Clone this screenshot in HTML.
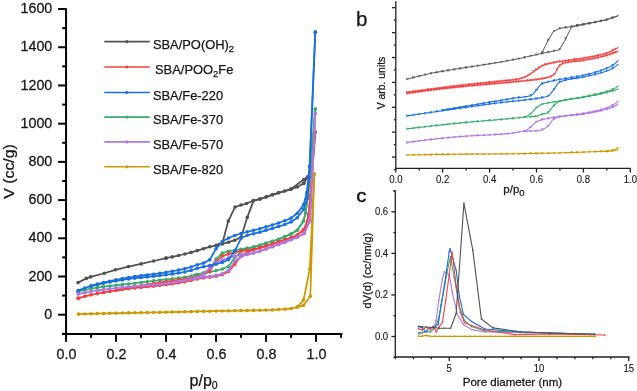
<!DOCTYPE html>
<html><head><meta charset="utf-8"><style>
html,body{margin:0;padding:0;background:#fff;}
svg{display:block;will-change:transform;}
</style></head><body>
<svg width="637" height="391" viewBox="0 0 637 391">
<rect width="637" height="391" fill="#fff"/>
<g stroke="#000" stroke-width="2" fill="none">
<line x1="66.05" y1="8.3" x2="66.05" y2="334.8"/>
<line x1="62.1" y1="334" x2="342.3" y2="334"/>
<line x1="62.2" y1="333.80" x2="66" y2="333.80"/>
<line x1="58.1" y1="314.70" x2="66" y2="314.70"/>
<line x1="62.2" y1="295.60" x2="66" y2="295.60"/>
<line x1="58.1" y1="276.49" x2="66" y2="276.49"/>
<line x1="62.2" y1="257.39" x2="66" y2="257.39"/>
<line x1="58.1" y1="238.29" x2="66" y2="238.29"/>
<line x1="62.2" y1="219.19" x2="66" y2="219.19"/>
<line x1="58.1" y1="200.08" x2="66" y2="200.08"/>
<line x1="62.2" y1="180.98" x2="66" y2="180.98"/>
<line x1="58.1" y1="161.88" x2="66" y2="161.88"/>
<line x1="62.2" y1="142.77" x2="66" y2="142.77"/>
<line x1="58.1" y1="123.67" x2="66" y2="123.67"/>
<line x1="62.2" y1="104.57" x2="66" y2="104.57"/>
<line x1="58.1" y1="85.46" x2="66" y2="85.46"/>
<line x1="62.2" y1="66.36" x2="66" y2="66.36"/>
<line x1="58.1" y1="47.26" x2="66" y2="47.26"/>
<line x1="62.2" y1="28.15" x2="66" y2="28.15"/>
<line x1="58.1" y1="9.05" x2="66" y2="9.05"/>
<line x1="66.05" y1="334" x2="66.05" y2="341.8"/>
<line x1="91.05" y1="334" x2="91.05" y2="337.8"/>
<line x1="116.05" y1="334" x2="116.05" y2="341.8"/>
<line x1="141.05" y1="334" x2="141.05" y2="337.8"/>
<line x1="166.05" y1="334" x2="166.05" y2="341.8"/>
<line x1="191.05" y1="334" x2="191.05" y2="337.8"/>
<line x1="216.05" y1="334" x2="216.05" y2="341.8"/>
<line x1="241.05" y1="334" x2="241.05" y2="337.8"/>
<line x1="266.05" y1="334" x2="266.05" y2="341.8"/>
<line x1="291.05" y1="334" x2="291.05" y2="337.8"/>
<line x1="316.05" y1="334" x2="316.05" y2="341.8"/>
<line x1="341.05" y1="334" x2="341.05" y2="337.8"/>
</g>
<g font-family='"Liberation Sans", sans-serif' fill='#161616' stroke='#161616' stroke-width='0.25'>
<text transform="translate(52.3,318.85) scale(1.02,1)" font-size="14" text-anchor="end">0</text>
<text transform="translate(52.3,280.64) scale(1.02,1)" font-size="14" text-anchor="end">200</text>
<text transform="translate(52.3,242.44) scale(1.02,1)" font-size="14" text-anchor="end">400</text>
<text transform="translate(52.3,204.23) scale(1.02,1)" font-size="14" text-anchor="end">600</text>
<text transform="translate(52.3,166.03) scale(1.02,1)" font-size="14" text-anchor="end">800</text>
<text transform="translate(52.3,127.82) scale(1.02,1)" font-size="14" text-anchor="end">1000</text>
<text transform="translate(52.3,89.61) scale(1.02,1)" font-size="14" text-anchor="end">1200</text>
<text transform="translate(52.3,51.41) scale(1.02,1)" font-size="14" text-anchor="end">1400</text>
<text transform="translate(52.3,13.20) scale(1.02,1)" font-size="14" text-anchor="end">1600</text>
<text transform="translate(66.45,358.5) scale(1.02,1)" font-size="14" text-anchor="middle">0.0</text>
<text transform="translate(116.45,358.5) scale(1.02,1)" font-size="14" text-anchor="middle">0.2</text>
<text transform="translate(166.45,358.5) scale(1.02,1)" font-size="14" text-anchor="middle">0.4</text>
<text transform="translate(216.45,358.5) scale(1.02,1)" font-size="14" text-anchor="middle">0.6</text>
<text transform="translate(266.45,358.5) scale(1.02,1)" font-size="14" text-anchor="middle">0.8</text>
<text transform="translate(316.45,358.5) scale(1.02,1)" font-size="14" text-anchor="middle">1.0</text>
<text x="189.6" y="385.8" font-size="16">p/p<tspan font-size="10.5" dy="3">0</tspan></text>
<text transform="translate(13.6,171.5) rotate(-90) scale(1.12,1)" font-size="14.2" text-anchor="middle">V (cc/g)</text>
</g>
<polyline points="78.55,314.13 84.80,313.95 91.05,313.78 97.30,313.62 103.55,313.46 109.80,313.31 116.05,313.17 122.30,313.04 128.55,312.92 134.80,312.80 141.05,312.69 147.30,312.57 153.55,312.46 159.80,312.34 166.05,312.22 172.30,312.08 178.55,311.94 184.80,311.79 191.05,311.64 197.30,311.49 203.55,311.35 209.80,311.21 216.05,311.07 222.30,310.95 228.55,310.83 234.80,310.73 241.05,310.62 247.30,310.51 253.55,310.40 259.80,310.26 266.05,310.12 272.30,309.91 278.55,309.51 284.80,309.16 291.05,308.59 297.30,307.06 303.55,305.34 310.30,296.17 314.30,174.10" fill="none" stroke="#CC9900" stroke-width="1.75" stroke-linejoin="round" stroke-linecap="round" />
<circle cx="78.55" cy="314.13" r="1.8" fill="#CC9900"/>
<circle cx="84.80" cy="313.95" r="1.8" fill="#CC9900"/>
<circle cx="91.05" cy="313.78" r="1.8" fill="#CC9900"/>
<circle cx="97.30" cy="313.62" r="1.8" fill="#CC9900"/>
<circle cx="103.55" cy="313.46" r="1.8" fill="#CC9900"/>
<circle cx="109.80" cy="313.31" r="1.8" fill="#CC9900"/>
<circle cx="116.05" cy="313.17" r="1.8" fill="#CC9900"/>
<circle cx="122.30" cy="313.04" r="1.8" fill="#CC9900"/>
<circle cx="128.55" cy="312.92" r="1.8" fill="#CC9900"/>
<circle cx="134.80" cy="312.80" r="1.8" fill="#CC9900"/>
<circle cx="141.05" cy="312.69" r="1.8" fill="#CC9900"/>
<circle cx="147.30" cy="312.57" r="1.8" fill="#CC9900"/>
<circle cx="153.55" cy="312.46" r="1.8" fill="#CC9900"/>
<circle cx="159.80" cy="312.34" r="1.8" fill="#CC9900"/>
<circle cx="166.05" cy="312.22" r="1.8" fill="#CC9900"/>
<circle cx="172.30" cy="312.08" r="1.8" fill="#CC9900"/>
<circle cx="178.55" cy="311.94" r="1.8" fill="#CC9900"/>
<circle cx="184.80" cy="311.79" r="1.8" fill="#CC9900"/>
<circle cx="191.05" cy="311.64" r="1.8" fill="#CC9900"/>
<circle cx="197.30" cy="311.49" r="1.8" fill="#CC9900"/>
<circle cx="203.55" cy="311.35" r="1.8" fill="#CC9900"/>
<circle cx="209.80" cy="311.21" r="1.8" fill="#CC9900"/>
<circle cx="216.05" cy="311.07" r="1.8" fill="#CC9900"/>
<circle cx="222.30" cy="310.95" r="1.8" fill="#CC9900"/>
<circle cx="228.55" cy="310.83" r="1.8" fill="#CC9900"/>
<circle cx="234.80" cy="310.73" r="1.8" fill="#CC9900"/>
<circle cx="241.05" cy="310.62" r="1.8" fill="#CC9900"/>
<circle cx="247.30" cy="310.51" r="1.8" fill="#CC9900"/>
<circle cx="253.55" cy="310.40" r="1.8" fill="#CC9900"/>
<circle cx="259.80" cy="310.26" r="1.8" fill="#CC9900"/>
<circle cx="266.05" cy="310.12" r="1.8" fill="#CC9900"/>
<circle cx="272.30" cy="309.91" r="1.8" fill="#CC9900"/>
<circle cx="278.55" cy="309.51" r="1.8" fill="#CC9900"/>
<circle cx="284.80" cy="309.16" r="1.8" fill="#CC9900"/>
<circle cx="291.05" cy="308.59" r="1.8" fill="#CC9900"/>
<circle cx="297.30" cy="307.06" r="1.8" fill="#CC9900"/>
<circle cx="303.55" cy="305.34" r="1.8" fill="#CC9900"/>
<circle cx="310.30" cy="296.17" r="1.8" fill="#CC9900"/>
<circle cx="314.30" cy="174.10" r="1.8" fill="#CC9900"/>
<polyline points="297.30,307.06 303.55,299.99 309.80,268.85 314.30,174.10" fill="none" stroke="#CC9900" stroke-width="1.75" stroke-linejoin="round" stroke-linecap="round" />
<circle cx="297.30" cy="307.06" r="1.8" fill="#CC9900"/>
<circle cx="303.55" cy="299.99" r="1.8" fill="#CC9900"/>
<circle cx="309.80" cy="268.85" r="1.8" fill="#CC9900"/>
<circle cx="314.30" cy="174.10" r="1.8" fill="#CC9900"/>
<polyline points="78.05,291.59 78.55,291.45 84.80,289.84 91.05,288.53 97.30,287.55 103.55,286.72 109.80,285.99 116.05,285.31 122.30,284.64 128.55,283.93 134.80,283.18 141.05,282.43 147.30,281.68 153.55,280.92 159.80,280.15 166.05,279.43 172.30,278.76 178.55,278.04 184.80,277.19 191.05,276.08 197.30,274.45 203.55,273.18 209.80,271.98 216.05,270.58 222.30,268.98 228.55,266.40 234.80,257.58 241.05,251.24 247.30,248.83 253.55,247.13 259.80,245.21 266.05,243.21 272.30,241.21 278.55,239.21 284.80,236.83 291.05,233.93 297.30,230.18 303.55,221.12 305.55,212.88 308.05,195.31 315.30,108.96" fill="none" stroke="#37AD6B" stroke-width="1.75" stroke-linejoin="round" stroke-linecap="round" />
<circle cx="78.05" cy="291.59" r="1.8" fill="#37AD6B"/>
<circle cx="78.55" cy="291.45" r="1.8" fill="#37AD6B"/>
<circle cx="84.80" cy="289.84" r="1.8" fill="#37AD6B"/>
<circle cx="91.05" cy="288.53" r="1.8" fill="#37AD6B"/>
<circle cx="97.30" cy="287.55" r="1.8" fill="#37AD6B"/>
<circle cx="103.55" cy="286.72" r="1.8" fill="#37AD6B"/>
<circle cx="109.80" cy="285.99" r="1.8" fill="#37AD6B"/>
<circle cx="116.05" cy="285.31" r="1.8" fill="#37AD6B"/>
<circle cx="122.30" cy="284.64" r="1.8" fill="#37AD6B"/>
<circle cx="128.55" cy="283.93" r="1.8" fill="#37AD6B"/>
<circle cx="134.80" cy="283.18" r="1.8" fill="#37AD6B"/>
<circle cx="141.05" cy="282.43" r="1.8" fill="#37AD6B"/>
<circle cx="147.30" cy="281.68" r="1.8" fill="#37AD6B"/>
<circle cx="153.55" cy="280.92" r="1.8" fill="#37AD6B"/>
<circle cx="159.80" cy="280.15" r="1.8" fill="#37AD6B"/>
<circle cx="166.05" cy="279.43" r="1.8" fill="#37AD6B"/>
<circle cx="172.30" cy="278.76" r="1.8" fill="#37AD6B"/>
<circle cx="178.55" cy="278.04" r="1.8" fill="#37AD6B"/>
<circle cx="184.80" cy="277.19" r="1.8" fill="#37AD6B"/>
<circle cx="191.05" cy="276.08" r="1.8" fill="#37AD6B"/>
<circle cx="197.30" cy="274.45" r="1.8" fill="#37AD6B"/>
<circle cx="203.55" cy="273.18" r="1.8" fill="#37AD6B"/>
<circle cx="209.80" cy="271.98" r="1.8" fill="#37AD6B"/>
<circle cx="216.05" cy="270.58" r="1.8" fill="#37AD6B"/>
<circle cx="222.30" cy="268.98" r="1.8" fill="#37AD6B"/>
<circle cx="228.55" cy="266.40" r="1.8" fill="#37AD6B"/>
<circle cx="234.80" cy="257.58" r="1.8" fill="#37AD6B"/>
<circle cx="241.05" cy="251.24" r="1.8" fill="#37AD6B"/>
<circle cx="247.30" cy="248.83" r="1.8" fill="#37AD6B"/>
<circle cx="253.55" cy="247.13" r="1.8" fill="#37AD6B"/>
<circle cx="259.80" cy="245.21" r="1.8" fill="#37AD6B"/>
<circle cx="266.05" cy="243.21" r="1.8" fill="#37AD6B"/>
<circle cx="272.30" cy="241.21" r="1.8" fill="#37AD6B"/>
<circle cx="278.55" cy="239.21" r="1.8" fill="#37AD6B"/>
<circle cx="284.80" cy="236.83" r="1.8" fill="#37AD6B"/>
<circle cx="291.05" cy="233.93" r="1.8" fill="#37AD6B"/>
<circle cx="297.30" cy="230.18" r="1.8" fill="#37AD6B"/>
<circle cx="303.55" cy="221.12" r="1.8" fill="#37AD6B"/>
<circle cx="305.55" cy="212.88" r="1.8" fill="#37AD6B"/>
<circle cx="308.05" cy="195.31" r="1.8" fill="#37AD6B"/>
<circle cx="315.30" cy="108.96" r="1.8" fill="#37AD6B"/>
<polyline points="195.05,274.97 197.30,274.81 203.55,272.96 209.80,269.37 216.05,259.11 222.30,253.16 228.55,251.41 234.80,250.22 241.05,249.22 247.30,248.15 253.55,247.02 259.80,245.38 266.05,243.27 272.30,241.21 278.55,239.21 284.80,236.83 291.05,233.93 297.30,230.18 303.55,221.12 305.55,212.88 308.05,195.31 315.30,108.96" fill="none" stroke="#37AD6B" stroke-width="1.75" stroke-linejoin="round" stroke-linecap="round" />
<circle cx="195.05" cy="274.97" r="1.8" fill="#37AD6B"/>
<circle cx="197.30" cy="274.81" r="1.8" fill="#37AD6B"/>
<circle cx="203.55" cy="272.96" r="1.8" fill="#37AD6B"/>
<circle cx="209.80" cy="269.37" r="1.8" fill="#37AD6B"/>
<circle cx="216.05" cy="259.11" r="1.8" fill="#37AD6B"/>
<circle cx="222.30" cy="253.16" r="1.8" fill="#37AD6B"/>
<circle cx="228.55" cy="251.41" r="1.8" fill="#37AD6B"/>
<circle cx="234.80" cy="250.22" r="1.8" fill="#37AD6B"/>
<circle cx="241.05" cy="249.22" r="1.8" fill="#37AD6B"/>
<circle cx="247.30" cy="248.15" r="1.8" fill="#37AD6B"/>
<circle cx="253.55" cy="247.02" r="1.8" fill="#37AD6B"/>
<circle cx="259.80" cy="245.38" r="1.8" fill="#37AD6B"/>
<circle cx="266.05" cy="243.27" r="1.8" fill="#37AD6B"/>
<circle cx="272.30" cy="241.21" r="1.8" fill="#37AD6B"/>
<circle cx="278.55" cy="239.21" r="1.8" fill="#37AD6B"/>
<circle cx="284.80" cy="236.83" r="1.8" fill="#37AD6B"/>
<circle cx="291.05" cy="233.93" r="1.8" fill="#37AD6B"/>
<circle cx="297.30" cy="230.18" r="1.8" fill="#37AD6B"/>
<circle cx="303.55" cy="221.12" r="1.8" fill="#37AD6B"/>
<circle cx="305.55" cy="212.88" r="1.8" fill="#37AD6B"/>
<circle cx="308.05" cy="195.31" r="1.8" fill="#37AD6B"/>
<circle cx="315.30" cy="108.96" r="1.8" fill="#37AD6B"/>
<polyline points="78.05,298.27 78.55,298.13 84.80,296.35 91.05,294.83 97.30,293.58 103.55,292.44 109.80,291.39 116.05,290.42 122.30,289.53 128.55,288.72 134.80,287.99 141.05,287.37 147.30,286.80 153.55,286.20 159.80,285.50 166.05,284.70 172.30,283.83 178.55,282.86 184.80,281.75 191.05,280.46 197.30,278.91 203.55,277.96 209.80,277.17 216.05,276.18 222.30,274.62 228.55,271.46 234.80,264.38 241.05,255.56 247.30,252.21 253.55,249.72 259.80,247.66 266.05,245.96 272.30,244.04 278.55,241.86 284.80,239.92 291.05,237.89 297.30,234.93 303.55,229.72 305.55,227.02 308.80,214.41 315.30,132.08" fill="none" stroke="#F14040" stroke-width="1.75" stroke-linejoin="round" stroke-linecap="round" />
<circle cx="78.05" cy="298.27" r="1.8" fill="#F14040"/>
<circle cx="78.55" cy="298.13" r="1.8" fill="#F14040"/>
<circle cx="84.80" cy="296.35" r="1.8" fill="#F14040"/>
<circle cx="91.05" cy="294.83" r="1.8" fill="#F14040"/>
<circle cx="97.30" cy="293.58" r="1.8" fill="#F14040"/>
<circle cx="103.55" cy="292.44" r="1.8" fill="#F14040"/>
<circle cx="109.80" cy="291.39" r="1.8" fill="#F14040"/>
<circle cx="116.05" cy="290.42" r="1.8" fill="#F14040"/>
<circle cx="122.30" cy="289.53" r="1.8" fill="#F14040"/>
<circle cx="128.55" cy="288.72" r="1.8" fill="#F14040"/>
<circle cx="134.80" cy="287.99" r="1.8" fill="#F14040"/>
<circle cx="141.05" cy="287.37" r="1.8" fill="#F14040"/>
<circle cx="147.30" cy="286.80" r="1.8" fill="#F14040"/>
<circle cx="153.55" cy="286.20" r="1.8" fill="#F14040"/>
<circle cx="159.80" cy="285.50" r="1.8" fill="#F14040"/>
<circle cx="166.05" cy="284.70" r="1.8" fill="#F14040"/>
<circle cx="172.30" cy="283.83" r="1.8" fill="#F14040"/>
<circle cx="178.55" cy="282.86" r="1.8" fill="#F14040"/>
<circle cx="184.80" cy="281.75" r="1.8" fill="#F14040"/>
<circle cx="191.05" cy="280.46" r="1.8" fill="#F14040"/>
<circle cx="197.30" cy="278.91" r="1.8" fill="#F14040"/>
<circle cx="203.55" cy="277.96" r="1.8" fill="#F14040"/>
<circle cx="209.80" cy="277.17" r="1.8" fill="#F14040"/>
<circle cx="216.05" cy="276.18" r="1.8" fill="#F14040"/>
<circle cx="222.30" cy="274.62" r="1.8" fill="#F14040"/>
<circle cx="228.55" cy="271.46" r="1.8" fill="#F14040"/>
<circle cx="234.80" cy="264.38" r="1.8" fill="#F14040"/>
<circle cx="241.05" cy="255.56" r="1.8" fill="#F14040"/>
<circle cx="247.30" cy="252.21" r="1.8" fill="#F14040"/>
<circle cx="253.55" cy="249.72" r="1.8" fill="#F14040"/>
<circle cx="259.80" cy="247.66" r="1.8" fill="#F14040"/>
<circle cx="266.05" cy="245.96" r="1.8" fill="#F14040"/>
<circle cx="272.30" cy="244.04" r="1.8" fill="#F14040"/>
<circle cx="278.55" cy="241.86" r="1.8" fill="#F14040"/>
<circle cx="284.80" cy="239.92" r="1.8" fill="#F14040"/>
<circle cx="291.05" cy="237.89" r="1.8" fill="#F14040"/>
<circle cx="297.30" cy="234.93" r="1.8" fill="#F14040"/>
<circle cx="303.55" cy="229.72" r="1.8" fill="#F14040"/>
<circle cx="305.55" cy="227.02" r="1.8" fill="#F14040"/>
<circle cx="308.80" cy="214.41" r="1.8" fill="#F14040"/>
<circle cx="315.30" cy="132.08" r="1.8" fill="#F14040"/>
<polyline points="116.05,290.25 122.30,288.57 128.55,287.25 134.80,286.39 141.05,285.66 147.30,284.72 153.55,283.67 159.80,282.65 166.05,281.72 172.30,280.85 178.55,279.99 184.80,279.06 191.05,278.04 197.30,276.70 203.55,274.72 209.80,271.05 216.05,261.58 222.30,256.08 228.55,253.99 234.80,252.20 241.05,251.05 247.30,250.29 253.55,249.45 259.80,248.04 266.05,246.09 272.30,244.04 278.55,241.86 284.80,239.92 291.05,237.89 297.30,234.93 303.55,229.72 305.55,227.02 308.80,214.41 315.30,132.08" fill="none" stroke="#F14040" stroke-width="1.75" stroke-linejoin="round" stroke-linecap="round" />
<circle cx="116.05" cy="290.25" r="1.8" fill="#F14040"/>
<circle cx="122.30" cy="288.57" r="1.8" fill="#F14040"/>
<circle cx="128.55" cy="287.25" r="1.8" fill="#F14040"/>
<circle cx="134.80" cy="286.39" r="1.8" fill="#F14040"/>
<circle cx="141.05" cy="285.66" r="1.8" fill="#F14040"/>
<circle cx="147.30" cy="284.72" r="1.8" fill="#F14040"/>
<circle cx="153.55" cy="283.67" r="1.8" fill="#F14040"/>
<circle cx="159.80" cy="282.65" r="1.8" fill="#F14040"/>
<circle cx="166.05" cy="281.72" r="1.8" fill="#F14040"/>
<circle cx="172.30" cy="280.85" r="1.8" fill="#F14040"/>
<circle cx="178.55" cy="279.99" r="1.8" fill="#F14040"/>
<circle cx="184.80" cy="279.06" r="1.8" fill="#F14040"/>
<circle cx="191.05" cy="278.04" r="1.8" fill="#F14040"/>
<circle cx="197.30" cy="276.70" r="1.8" fill="#F14040"/>
<circle cx="203.55" cy="274.72" r="1.8" fill="#F14040"/>
<circle cx="209.80" cy="271.05" r="1.8" fill="#F14040"/>
<circle cx="216.05" cy="261.58" r="1.8" fill="#F14040"/>
<circle cx="222.30" cy="256.08" r="1.8" fill="#F14040"/>
<circle cx="228.55" cy="253.99" r="1.8" fill="#F14040"/>
<circle cx="234.80" cy="252.20" r="1.8" fill="#F14040"/>
<circle cx="241.05" cy="251.05" r="1.8" fill="#F14040"/>
<circle cx="247.30" cy="250.29" r="1.8" fill="#F14040"/>
<circle cx="253.55" cy="249.45" r="1.8" fill="#F14040"/>
<circle cx="259.80" cy="248.04" r="1.8" fill="#F14040"/>
<circle cx="266.05" cy="246.09" r="1.8" fill="#F14040"/>
<circle cx="272.30" cy="244.04" r="1.8" fill="#F14040"/>
<circle cx="278.55" cy="241.86" r="1.8" fill="#F14040"/>
<circle cx="284.80" cy="239.92" r="1.8" fill="#F14040"/>
<circle cx="291.05" cy="237.89" r="1.8" fill="#F14040"/>
<circle cx="297.30" cy="234.93" r="1.8" fill="#F14040"/>
<circle cx="303.55" cy="229.72" r="1.8" fill="#F14040"/>
<circle cx="305.55" cy="227.02" r="1.8" fill="#F14040"/>
<circle cx="308.80" cy="214.41" r="1.8" fill="#F14040"/>
<circle cx="315.30" cy="132.08" r="1.8" fill="#F14040"/>
<polyline points="78.05,294.07 78.55,293.96 84.80,292.57 91.05,291.39 97.30,290.44 103.55,289.57 109.80,288.77 116.05,288.04 122.30,287.38 128.55,286.76 134.80,286.22 141.05,285.78 147.30,285.37 153.55,284.92 159.80,284.35 166.05,283.58 172.30,282.60 178.55,281.49 184.80,280.33 191.05,279.17 197.30,278.03 203.55,277.17 209.80,276.38 216.05,275.37 222.30,273.86 228.55,270.27 234.80,261.49 241.05,256.71 247.30,254.62 253.55,253.04 259.80,251.09 266.05,248.89 272.30,246.66 278.55,244.38 284.80,242.13 291.05,239.79 297.30,237.28 303.55,233.77 304.30,233.13 310.05,220.52 315.30,113.55" fill="none" stroke="#B177DE" stroke-width="1.75" stroke-linejoin="round" stroke-linecap="round" />
<circle cx="78.05" cy="294.07" r="1.8" fill="#B177DE"/>
<circle cx="78.55" cy="293.96" r="1.8" fill="#B177DE"/>
<circle cx="84.80" cy="292.57" r="1.8" fill="#B177DE"/>
<circle cx="91.05" cy="291.39" r="1.8" fill="#B177DE"/>
<circle cx="97.30" cy="290.44" r="1.8" fill="#B177DE"/>
<circle cx="103.55" cy="289.57" r="1.8" fill="#B177DE"/>
<circle cx="109.80" cy="288.77" r="1.8" fill="#B177DE"/>
<circle cx="116.05" cy="288.04" r="1.8" fill="#B177DE"/>
<circle cx="122.30" cy="287.38" r="1.8" fill="#B177DE"/>
<circle cx="128.55" cy="286.76" r="1.8" fill="#B177DE"/>
<circle cx="134.80" cy="286.22" r="1.8" fill="#B177DE"/>
<circle cx="141.05" cy="285.78" r="1.8" fill="#B177DE"/>
<circle cx="147.30" cy="285.37" r="1.8" fill="#B177DE"/>
<circle cx="153.55" cy="284.92" r="1.8" fill="#B177DE"/>
<circle cx="159.80" cy="284.35" r="1.8" fill="#B177DE"/>
<circle cx="166.05" cy="283.58" r="1.8" fill="#B177DE"/>
<circle cx="172.30" cy="282.60" r="1.8" fill="#B177DE"/>
<circle cx="178.55" cy="281.49" r="1.8" fill="#B177DE"/>
<circle cx="184.80" cy="280.33" r="1.8" fill="#B177DE"/>
<circle cx="191.05" cy="279.17" r="1.8" fill="#B177DE"/>
<circle cx="197.30" cy="278.03" r="1.8" fill="#B177DE"/>
<circle cx="203.55" cy="277.17" r="1.8" fill="#B177DE"/>
<circle cx="209.80" cy="276.38" r="1.8" fill="#B177DE"/>
<circle cx="216.05" cy="275.37" r="1.8" fill="#B177DE"/>
<circle cx="222.30" cy="273.86" r="1.8" fill="#B177DE"/>
<circle cx="228.55" cy="270.27" r="1.8" fill="#B177DE"/>
<circle cx="234.80" cy="261.49" r="1.8" fill="#B177DE"/>
<circle cx="241.05" cy="256.71" r="1.8" fill="#B177DE"/>
<circle cx="247.30" cy="254.62" r="1.8" fill="#B177DE"/>
<circle cx="253.55" cy="253.04" r="1.8" fill="#B177DE"/>
<circle cx="259.80" cy="251.09" r="1.8" fill="#B177DE"/>
<circle cx="266.05" cy="248.89" r="1.8" fill="#B177DE"/>
<circle cx="272.30" cy="246.66" r="1.8" fill="#B177DE"/>
<circle cx="278.55" cy="244.38" r="1.8" fill="#B177DE"/>
<circle cx="284.80" cy="242.13" r="1.8" fill="#B177DE"/>
<circle cx="291.05" cy="239.79" r="1.8" fill="#B177DE"/>
<circle cx="297.30" cy="237.28" r="1.8" fill="#B177DE"/>
<circle cx="303.55" cy="233.77" r="1.8" fill="#B177DE"/>
<circle cx="304.30" cy="233.13" r="1.8" fill="#B177DE"/>
<circle cx="310.05" cy="220.52" r="1.8" fill="#B177DE"/>
<circle cx="315.30" cy="113.55" r="1.8" fill="#B177DE"/>
<polyline points="195.05,278.40 197.30,277.80 203.55,274.45 209.80,268.04 216.05,262.26 222.30,259.99 228.55,257.89 234.80,256.15 241.05,254.83 247.30,253.92 253.55,252.93 259.80,251.26 266.05,248.95 272.30,246.66 278.55,244.38 284.80,242.13 291.05,239.79 297.30,237.28 303.55,233.77 304.30,233.13 310.05,220.52 315.30,113.55" fill="none" stroke="#B177DE" stroke-width="1.75" stroke-linejoin="round" stroke-linecap="round" />
<circle cx="195.05" cy="278.40" r="1.8" fill="#B177DE"/>
<circle cx="197.30" cy="277.80" r="1.8" fill="#B177DE"/>
<circle cx="203.55" cy="274.45" r="1.8" fill="#B177DE"/>
<circle cx="209.80" cy="268.04" r="1.8" fill="#B177DE"/>
<circle cx="216.05" cy="262.26" r="1.8" fill="#B177DE"/>
<circle cx="222.30" cy="259.99" r="1.8" fill="#B177DE"/>
<circle cx="228.55" cy="257.89" r="1.8" fill="#B177DE"/>
<circle cx="234.80" cy="256.15" r="1.8" fill="#B177DE"/>
<circle cx="241.05" cy="254.83" r="1.8" fill="#B177DE"/>
<circle cx="247.30" cy="253.92" r="1.8" fill="#B177DE"/>
<circle cx="253.55" cy="252.93" r="1.8" fill="#B177DE"/>
<circle cx="259.80" cy="251.26" r="1.8" fill="#B177DE"/>
<circle cx="266.05" cy="248.95" r="1.8" fill="#B177DE"/>
<circle cx="272.30" cy="246.66" r="1.8" fill="#B177DE"/>
<circle cx="278.55" cy="244.38" r="1.8" fill="#B177DE"/>
<circle cx="284.80" cy="242.13" r="1.8" fill="#B177DE"/>
<circle cx="291.05" cy="239.79" r="1.8" fill="#B177DE"/>
<circle cx="297.30" cy="237.28" r="1.8" fill="#B177DE"/>
<circle cx="303.55" cy="233.77" r="1.8" fill="#B177DE"/>
<circle cx="304.30" cy="233.13" r="1.8" fill="#B177DE"/>
<circle cx="310.05" cy="220.52" r="1.8" fill="#B177DE"/>
<circle cx="315.30" cy="113.55" r="1.8" fill="#B177DE"/>
<polyline points="78.05,282.61 86.30,278.40 90.55,276.88 104.30,273.25 115.30,269.81 128.55,266.56 141.05,263.89 153.55,261.02 166.05,258.16 166.05,258.16 172.30,256.91 178.55,255.52 184.80,254.01 191.05,252.41 197.30,250.61 203.55,248.69 209.80,246.82 216.05,245.34 222.30,243.95 228.55,242.18 234.80,240.20 241.05,237.14 247.30,217.32 253.55,200.62 259.80,199.07 266.05,197.01 272.30,194.82 278.55,192.82 284.80,191.05 291.05,189.10 297.30,186.94 303.55,183.47 303.80,183.27 307.55,177.16" fill="none" stroke="#515151" stroke-width="1.75" stroke-linejoin="round" stroke-linecap="round" />
<circle cx="78.05" cy="282.61" r="1.8" fill="#515151"/>
<circle cx="86.30" cy="278.40" r="1.8" fill="#515151"/>
<circle cx="90.55" cy="276.88" r="1.8" fill="#515151"/>
<circle cx="104.30" cy="273.25" r="1.8" fill="#515151"/>
<circle cx="115.30" cy="269.81" r="1.8" fill="#515151"/>
<circle cx="128.55" cy="266.56" r="1.8" fill="#515151"/>
<circle cx="141.05" cy="263.89" r="1.8" fill="#515151"/>
<circle cx="153.55" cy="261.02" r="1.8" fill="#515151"/>
<circle cx="166.05" cy="258.16" r="1.8" fill="#515151"/>
<circle cx="166.05" cy="258.16" r="1.8" fill="#515151"/>
<circle cx="172.30" cy="256.91" r="1.8" fill="#515151"/>
<circle cx="178.55" cy="255.52" r="1.8" fill="#515151"/>
<circle cx="184.80" cy="254.01" r="1.8" fill="#515151"/>
<circle cx="191.05" cy="252.41" r="1.8" fill="#515151"/>
<circle cx="197.30" cy="250.61" r="1.8" fill="#515151"/>
<circle cx="203.55" cy="248.69" r="1.8" fill="#515151"/>
<circle cx="209.80" cy="246.82" r="1.8" fill="#515151"/>
<circle cx="216.05" cy="245.34" r="1.8" fill="#515151"/>
<circle cx="222.30" cy="243.95" r="1.8" fill="#515151"/>
<circle cx="228.55" cy="242.18" r="1.8" fill="#515151"/>
<circle cx="234.80" cy="240.20" r="1.8" fill="#515151"/>
<circle cx="241.05" cy="237.14" r="1.8" fill="#515151"/>
<circle cx="247.30" cy="217.32" r="1.8" fill="#515151"/>
<circle cx="253.55" cy="200.62" r="1.8" fill="#515151"/>
<circle cx="259.80" cy="199.07" r="1.8" fill="#515151"/>
<circle cx="266.05" cy="197.01" r="1.8" fill="#515151"/>
<circle cx="272.30" cy="194.82" r="1.8" fill="#515151"/>
<circle cx="278.55" cy="192.82" r="1.8" fill="#515151"/>
<circle cx="284.80" cy="191.05" r="1.8" fill="#515151"/>
<circle cx="291.05" cy="189.10" r="1.8" fill="#515151"/>
<circle cx="297.30" cy="186.94" r="1.8" fill="#515151"/>
<circle cx="303.55" cy="183.47" r="1.8" fill="#515151"/>
<circle cx="303.80" cy="183.27" r="1.8" fill="#515151"/>
<circle cx="307.55" cy="177.16" r="1.8" fill="#515151"/>
<polyline points="307.55,177.16 303.80,179.45 290.80,189.19 278.55,192.82 272.55,194.73 266.55,196.83 260.30,198.94 253.05,200.85 246.55,203.52 241.05,205.05 235.05,206.96 228.30,221.10 222.30,243.45 218.55,244.78" fill="none" stroke="#515151" stroke-width="1.75" stroke-linejoin="round" stroke-linecap="round" />
<circle cx="307.55" cy="177.16" r="1.8" fill="#515151"/>
<circle cx="303.80" cy="179.45" r="1.8" fill="#515151"/>
<circle cx="290.80" cy="189.19" r="1.8" fill="#515151"/>
<circle cx="278.55" cy="192.82" r="1.8" fill="#515151"/>
<circle cx="272.55" cy="194.73" r="1.8" fill="#515151"/>
<circle cx="266.55" cy="196.83" r="1.8" fill="#515151"/>
<circle cx="260.30" cy="198.94" r="1.8" fill="#515151"/>
<circle cx="253.05" cy="200.85" r="1.8" fill="#515151"/>
<circle cx="246.55" cy="203.52" r="1.8" fill="#515151"/>
<circle cx="241.05" cy="205.05" r="1.8" fill="#515151"/>
<circle cx="235.05" cy="206.96" r="1.8" fill="#515151"/>
<circle cx="228.30" cy="221.10" r="1.8" fill="#515151"/>
<circle cx="222.30" cy="243.45" r="1.8" fill="#515151"/>
<circle cx="218.55" cy="244.78" r="1.8" fill="#515151"/>
<polyline points="78.05,290.63 78.55,290.43 84.80,288.02 91.05,286.05 97.30,284.53 103.55,283.17 109.80,281.96 116.05,280.87 122.30,279.89 128.55,278.99 134.80,278.19 141.05,277.53 147.30,276.92 153.55,276.29 159.80,275.57 166.05,274.79 172.30,273.99 178.55,273.07 184.80,271.94 191.05,270.45 197.30,268.20 203.55,266.74 209.80,265.52 216.05,264.18 222.30,262.38 228.55,259.60 234.80,251.04 241.05,238.29 247.30,235.27 253.55,233.69 259.80,232.18 266.05,230.31 272.30,228.45 278.55,226.56 284.80,224.47 291.05,221.92 297.30,217.73 303.55,209.26 307.05,198.74 309.30,177.16 315.30,32.17" fill="none" stroke="#1A6FDF" stroke-width="1.75" stroke-linejoin="round" stroke-linecap="round" />
<circle cx="78.05" cy="290.63" r="1.8" fill="#1A6FDF"/>
<circle cx="78.55" cy="290.43" r="1.8" fill="#1A6FDF"/>
<circle cx="84.80" cy="288.02" r="1.8" fill="#1A6FDF"/>
<circle cx="91.05" cy="286.05" r="1.8" fill="#1A6FDF"/>
<circle cx="97.30" cy="284.53" r="1.8" fill="#1A6FDF"/>
<circle cx="103.55" cy="283.17" r="1.8" fill="#1A6FDF"/>
<circle cx="109.80" cy="281.96" r="1.8" fill="#1A6FDF"/>
<circle cx="116.05" cy="280.87" r="1.8" fill="#1A6FDF"/>
<circle cx="122.30" cy="279.89" r="1.8" fill="#1A6FDF"/>
<circle cx="128.55" cy="278.99" r="1.8" fill="#1A6FDF"/>
<circle cx="134.80" cy="278.19" r="1.8" fill="#1A6FDF"/>
<circle cx="141.05" cy="277.53" r="1.8" fill="#1A6FDF"/>
<circle cx="147.30" cy="276.92" r="1.8" fill="#1A6FDF"/>
<circle cx="153.55" cy="276.29" r="1.8" fill="#1A6FDF"/>
<circle cx="159.80" cy="275.57" r="1.8" fill="#1A6FDF"/>
<circle cx="166.05" cy="274.79" r="1.8" fill="#1A6FDF"/>
<circle cx="172.30" cy="273.99" r="1.8" fill="#1A6FDF"/>
<circle cx="178.55" cy="273.07" r="1.8" fill="#1A6FDF"/>
<circle cx="184.80" cy="271.94" r="1.8" fill="#1A6FDF"/>
<circle cx="191.05" cy="270.45" r="1.8" fill="#1A6FDF"/>
<circle cx="197.30" cy="268.20" r="1.8" fill="#1A6FDF"/>
<circle cx="203.55" cy="266.74" r="1.8" fill="#1A6FDF"/>
<circle cx="209.80" cy="265.52" r="1.8" fill="#1A6FDF"/>
<circle cx="216.05" cy="264.18" r="1.8" fill="#1A6FDF"/>
<circle cx="222.30" cy="262.38" r="1.8" fill="#1A6FDF"/>
<circle cx="228.55" cy="259.60" r="1.8" fill="#1A6FDF"/>
<circle cx="234.80" cy="251.04" r="1.8" fill="#1A6FDF"/>
<circle cx="241.05" cy="238.29" r="1.8" fill="#1A6FDF"/>
<circle cx="247.30" cy="235.27" r="1.8" fill="#1A6FDF"/>
<circle cx="253.55" cy="233.69" r="1.8" fill="#1A6FDF"/>
<circle cx="259.80" cy="232.18" r="1.8" fill="#1A6FDF"/>
<circle cx="266.05" cy="230.31" r="1.8" fill="#1A6FDF"/>
<circle cx="272.30" cy="228.45" r="1.8" fill="#1A6FDF"/>
<circle cx="278.55" cy="226.56" r="1.8" fill="#1A6FDF"/>
<circle cx="284.80" cy="224.47" r="1.8" fill="#1A6FDF"/>
<circle cx="291.05" cy="221.92" r="1.8" fill="#1A6FDF"/>
<circle cx="297.30" cy="217.73" r="1.8" fill="#1A6FDF"/>
<circle cx="303.55" cy="209.26" r="1.8" fill="#1A6FDF"/>
<circle cx="307.05" cy="198.74" r="1.8" fill="#1A6FDF"/>
<circle cx="309.30" cy="177.16" r="1.8" fill="#1A6FDF"/>
<circle cx="315.30" cy="32.17" r="1.8" fill="#1A6FDF"/>
<polyline points="91.05,285.85 97.30,284.16 103.55,282.61 109.80,281.19 116.05,279.86 122.30,278.62 128.55,277.50 134.80,276.55 141.05,275.73 147.30,274.97 153.55,274.19 159.80,273.29 166.05,272.29 172.30,271.24 178.55,270.07 184.80,268.69 191.05,267.00 197.30,264.77 203.55,263.11 209.80,259.68 216.05,248.85 222.30,241.52 228.55,237.99 234.80,235.53 241.05,233.51 247.30,231.77 253.55,230.30 259.80,228.74 266.05,226.91 272.30,224.98 278.55,222.96 284.80,220.79 291.05,218.12 297.30,213.19 303.55,204.73 306.80,192.44 309.55,166.46 315.30,32.17" fill="none" stroke="#1A6FDF" stroke-width="1.75" stroke-linejoin="round" stroke-linecap="round" />
<circle cx="91.05" cy="285.85" r="1.8" fill="#1A6FDF"/>
<circle cx="97.30" cy="284.16" r="1.8" fill="#1A6FDF"/>
<circle cx="103.55" cy="282.61" r="1.8" fill="#1A6FDF"/>
<circle cx="109.80" cy="281.19" r="1.8" fill="#1A6FDF"/>
<circle cx="116.05" cy="279.86" r="1.8" fill="#1A6FDF"/>
<circle cx="122.30" cy="278.62" r="1.8" fill="#1A6FDF"/>
<circle cx="128.55" cy="277.50" r="1.8" fill="#1A6FDF"/>
<circle cx="134.80" cy="276.55" r="1.8" fill="#1A6FDF"/>
<circle cx="141.05" cy="275.73" r="1.8" fill="#1A6FDF"/>
<circle cx="147.30" cy="274.97" r="1.8" fill="#1A6FDF"/>
<circle cx="153.55" cy="274.19" r="1.8" fill="#1A6FDF"/>
<circle cx="159.80" cy="273.29" r="1.8" fill="#1A6FDF"/>
<circle cx="166.05" cy="272.29" r="1.8" fill="#1A6FDF"/>
<circle cx="172.30" cy="271.24" r="1.8" fill="#1A6FDF"/>
<circle cx="178.55" cy="270.07" r="1.8" fill="#1A6FDF"/>
<circle cx="184.80" cy="268.69" r="1.8" fill="#1A6FDF"/>
<circle cx="191.05" cy="267.00" r="1.8" fill="#1A6FDF"/>
<circle cx="197.30" cy="264.77" r="1.8" fill="#1A6FDF"/>
<circle cx="203.55" cy="263.11" r="1.8" fill="#1A6FDF"/>
<circle cx="209.80" cy="259.68" r="1.8" fill="#1A6FDF"/>
<circle cx="216.05" cy="248.85" r="1.8" fill="#1A6FDF"/>
<circle cx="222.30" cy="241.52" r="1.8" fill="#1A6FDF"/>
<circle cx="228.55" cy="237.99" r="1.8" fill="#1A6FDF"/>
<circle cx="234.80" cy="235.53" r="1.8" fill="#1A6FDF"/>
<circle cx="241.05" cy="233.51" r="1.8" fill="#1A6FDF"/>
<circle cx="247.30" cy="231.77" r="1.8" fill="#1A6FDF"/>
<circle cx="253.55" cy="230.30" r="1.8" fill="#1A6FDF"/>
<circle cx="259.80" cy="228.74" r="1.8" fill="#1A6FDF"/>
<circle cx="266.05" cy="226.91" r="1.8" fill="#1A6FDF"/>
<circle cx="272.30" cy="224.98" r="1.8" fill="#1A6FDF"/>
<circle cx="278.55" cy="222.96" r="1.8" fill="#1A6FDF"/>
<circle cx="284.80" cy="220.79" r="1.8" fill="#1A6FDF"/>
<circle cx="291.05" cy="218.12" r="1.8" fill="#1A6FDF"/>
<circle cx="297.30" cy="213.19" r="1.8" fill="#1A6FDF"/>
<circle cx="303.55" cy="204.73" r="1.8" fill="#1A6FDF"/>
<circle cx="306.80" cy="192.44" r="1.8" fill="#1A6FDF"/>
<circle cx="309.55" cy="166.46" r="1.8" fill="#1A6FDF"/>
<circle cx="315.30" cy="32.17" r="1.8" fill="#1A6FDF"/>
<line x1="104.3" y1="41.65" x2="149.8" y2="41.65" stroke="#515151" stroke-width="1.6"/>
<circle cx="126.9" cy="41.65" r="1.6" fill="#515151"/>
<text x='152.9' y='48.95' font-size='12.9' font-family='"Liberation Sans", sans-serif' fill='#161616' stroke='#161616' stroke-width='0.25'>SBA/PO(OH)<tspan font-size="9.5" dy="3">2</tspan></text>
<line x1="104.3" y1="67.00" x2="149.8" y2="67.00" stroke="#F14040" stroke-width="1.6"/>
<circle cx="126.9" cy="67.00" r="1.6" fill="#F14040"/>
<text x='155.0' y='74.30' font-size='12.9' font-family='"Liberation Sans", sans-serif' fill='#161616' stroke='#161616' stroke-width='0.25'>SBA/POO<tspan font-size="9.5" dy="3">2</tspan><tspan dy="-3">Fe</tspan></text>
<line x1="104.3" y1="92.50" x2="149.8" y2="92.50" stroke="#1A6FDF" stroke-width="1.6"/>
<circle cx="126.9" cy="92.50" r="1.6" fill="#1A6FDF"/>
<text x='152.9' y='99.80' font-size='12.9' font-family='"Liberation Sans", sans-serif' fill='#161616' stroke='#161616' stroke-width='0.25'>SBA/Fe-220</text>
<line x1="104.3" y1="117.10" x2="149.8" y2="117.10" stroke="#37AD6B" stroke-width="1.6"/>
<circle cx="126.9" cy="117.10" r="1.6" fill="#37AD6B"/>
<text x='152.9' y='124.40' font-size='12.9' font-family='"Liberation Sans", sans-serif' fill='#161616' stroke='#161616' stroke-width='0.25'>SBA/Fe-370</text>
<line x1="104.3" y1="141.90" x2="149.8" y2="141.90" stroke="#B177DE" stroke-width="1.6"/>
<circle cx="126.9" cy="141.90" r="1.6" fill="#B177DE"/>
<text x='152.9' y='149.20' font-size='12.9' font-family='"Liberation Sans", sans-serif' fill='#161616' stroke='#161616' stroke-width='0.25'>SBA/Fe-570</text>
<line x1="104.3" y1="166.80" x2="149.8" y2="166.80" stroke="#CC9900" stroke-width="1.6"/>
<circle cx="126.9" cy="166.80" r="1.6" fill="#CC9900"/>
<text x='152.9' y='174.10' font-size='12.9' font-family='"Liberation Sans", sans-serif' fill='#161616' stroke='#161616' stroke-width='0.25'>SBA/Fe-820</text>
<g stroke="#222" stroke-width="1.3" fill="none">
<line x1="395.8" y1="1.2" x2="395.8" y2="169"/>
<line x1="395.2" y1="168.4" x2="630.8" y2="168.4"/>
<line x1="392" y1="7.70" x2="395.8" y2="7.70"/>
<line x1="393.8" y1="20.15" x2="395.8" y2="20.15"/>
<line x1="392" y1="32.60" x2="395.8" y2="32.60"/>
<line x1="393.8" y1="45.05" x2="395.8" y2="45.05"/>
<line x1="392" y1="57.50" x2="395.8" y2="57.50"/>
<line x1="393.8" y1="69.95" x2="395.8" y2="69.95"/>
<line x1="392" y1="82.40" x2="395.8" y2="82.40"/>
<line x1="393.8" y1="94.85" x2="395.8" y2="94.85"/>
<line x1="392" y1="107.30" x2="395.8" y2="107.30"/>
<line x1="393.8" y1="119.75" x2="395.8" y2="119.75"/>
<line x1="392" y1="132.20" x2="395.8" y2="132.20"/>
<line x1="393.8" y1="144.65" x2="395.8" y2="144.65"/>
<line x1="392" y1="157.10" x2="395.8" y2="157.10"/>
<line x1="393.8" y1="169.55" x2="395.8" y2="169.55"/>
<line x1="395.80" y1="168.4" x2="395.80" y2="172.5"/>
<line x1="419.25" y1="168.4" x2="419.25" y2="170.5"/>
<line x1="442.70" y1="168.4" x2="442.70" y2="172.5"/>
<line x1="466.15" y1="168.4" x2="466.15" y2="170.5"/>
<line x1="489.60" y1="168.4" x2="489.60" y2="172.5"/>
<line x1="513.05" y1="168.4" x2="513.05" y2="170.5"/>
<line x1="536.50" y1="168.4" x2="536.50" y2="172.5"/>
<line x1="559.95" y1="168.4" x2="559.95" y2="170.5"/>
<line x1="583.40" y1="168.4" x2="583.40" y2="172.5"/>
<line x1="606.85" y1="168.4" x2="606.85" y2="170.5"/>
<line x1="630.30" y1="168.4" x2="630.30" y2="172.5"/>
</g>
<g font-family='"Liberation Sans", sans-serif' fill='#161616' stroke='#161616' stroke-width='0.25'>
<text transform="translate(395.80,182.8) scale(0.93,1)" font-size="10.3" text-anchor="middle" stroke-width="0.12">0.0</text>
<text transform="translate(442.70,182.8) scale(0.93,1)" font-size="10.3" text-anchor="middle" stroke-width="0.12">0.2</text>
<text transform="translate(489.60,182.8) scale(0.93,1)" font-size="10.3" text-anchor="middle" stroke-width="0.12">0.4</text>
<text transform="translate(536.50,182.8) scale(0.93,1)" font-size="10.3" text-anchor="middle" stroke-width="0.12">0.6</text>
<text transform="translate(583.40,182.8) scale(0.93,1)" font-size="10.3" text-anchor="middle" stroke-width="0.12">0.8</text>
<text transform="translate(630.30,182.8) scale(0.93,1)" font-size="10.3" text-anchor="middle" stroke-width="0.12">1.0</text>
<text x="503.3" y="193.4" font-size="11.5">p/p<tspan font-size="9.5" dy="2.6">0</tspan></text>
<text transform="translate(384.7,83) rotate(-90)" font-size="10.4" text-anchor="middle">V arb. units</text>
<text x="356" y="25.9" font-size="20.5">b</text>
<text transform="translate(356.3,202.3) scale(1.1,1)" font-size="18.5" stroke-width="0.45">c</text>
</g>
<polyline points="406.82,155.00 407.76,154.98 408.70,154.97 409.64,154.95 410.57,154.93 411.51,154.91 412.45,154.90 413.39,154.88 414.33,154.86 415.26,154.85 416.20,154.83 417.14,154.81 418.08,154.80 419.02,154.78 419.95,154.76 420.89,154.75 421.83,154.73 422.77,154.72 423.71,154.70 424.64,154.69 425.58,154.67 426.52,154.65 427.46,154.64 428.40,154.62 429.33,154.61 430.27,154.59 431.21,154.58 432.15,154.56 433.09,154.55 434.02,154.54 434.96,154.52 435.90,154.51 436.84,154.49 437.78,154.48 438.71,154.47 439.65,154.45 440.59,154.44 441.53,154.43 442.47,154.41 443.40,154.40 444.34,154.39 445.28,154.38 446.22,154.36 447.16,154.35 448.09,154.34 449.03,154.33 449.97,154.32 450.91,154.30 451.85,154.29 452.78,154.28 453.72,154.27 454.66,154.26 455.60,154.25 456.54,154.24 457.47,154.23 458.41,154.22 459.35,154.21 460.29,154.20 461.23,154.19 462.16,154.18 463.10,154.17 464.04,154.16 464.98,154.15 465.92,154.14 466.85,154.14 467.79,154.13 468.73,154.12 469.67,154.11 470.61,154.11 471.54,154.10 472.48,154.09 473.42,154.09 474.36,154.08 475.30,154.07 476.23,154.07 477.17,154.06 478.11,154.05 479.05,154.05 479.99,154.04 480.92,154.04 481.86,154.03 482.80,154.02 483.74,154.02 484.68,154.01 485.61,154.01 486.55,154.00 487.49,153.99 488.43,153.99 489.37,153.98 490.30,153.97 491.24,153.97 492.18,153.96 493.12,153.95 494.06,153.95 494.99,153.94 495.93,153.93 496.87,153.93 497.81,153.92 498.75,153.91 499.68,153.90 500.62,153.90 501.56,153.89 502.50,153.88 503.44,153.87 504.37,153.86 505.31,153.85 506.25,153.84 507.19,153.83 508.13,153.82 509.06,153.81 510.00,153.80 510.94,153.79 511.88,153.78 512.82,153.77 513.75,153.76 514.69,153.75 515.63,153.73 516.57,153.72 517.51,153.71 518.44,153.70 519.38,153.68 520.32,153.67 521.26,153.66 522.20,153.64 523.13,153.63 524.07,153.62 525.01,153.60 525.95,153.59 526.89,153.57 527.82,153.56 528.76,153.54 529.70,153.53 530.64,153.51 531.58,153.50 532.51,153.48 533.45,153.46 534.39,153.45 535.33,153.43 536.27,153.41 537.20,153.40 538.14,153.38 539.08,153.36 540.02,153.34 540.96,153.32 541.89,153.30 542.83,153.28 543.77,153.26 544.71,153.25 545.65,153.22 546.58,153.20 547.52,153.18 548.46,153.16 549.40,153.14 550.34,153.12 551.27,153.10 552.21,153.07 553.15,153.05 554.09,153.03 555.03,153.01 555.96,152.98 556.90,152.96 557.84,152.93 558.78,152.91 559.72,152.88 560.65,152.86 561.59,152.83 562.53,152.80 563.47,152.78 564.41,152.75 565.34,152.72 566.28,152.70 567.22,152.67 568.16,152.64 569.10,152.61 570.03,152.58 570.97,152.55 571.91,152.52 572.85,152.49 573.79,152.46 574.72,152.43 575.66,152.39 576.60,152.36 577.54,152.33 578.48,152.30 579.41,152.26 580.35,152.23 581.29,152.19 582.23,152.16 583.17,152.12 584.10,152.09 585.04,152.05 585.98,152.01 586.92,151.98 587.86,151.94 588.79,151.90 589.73,151.86 590.67,151.82 591.61,151.78 592.55,151.74 593.48,151.70 594.42,151.66 595.36,151.62 596.30,151.58 597.24,151.53 598.17,151.49 599.11,151.45 600.05,151.40 600.99,151.36 601.93,151.31 602.86,151.27 603.80,151.22 604.74,151.17 605.68,151.11 606.62,151.05 607.55,150.98 608.49,150.90 609.43,150.81 610.37,150.71 611.31,150.59 612.24,150.45 613.18,150.30 614.12,150.02 615.06,149.54 616.00,148.92 616.93,148.22 617.87,147.48 618.11,147.30" fill="none" stroke="#CC9900" stroke-width="1.1" stroke-linejoin="round" stroke-linecap="round" />
<rect x="406.73" y="154.19" width="1.6" height="1.6" fill="none" stroke="#CC9900" stroke-width="0.45"/>
<rect x="412.59" y="154.08" width="1.6" height="1.6" fill="none" stroke="#CC9900" stroke-width="0.45"/>
<rect x="418.45" y="153.98" width="1.6" height="1.6" fill="none" stroke="#CC9900" stroke-width="0.45"/>
<rect x="424.31" y="153.88" width="1.6" height="1.6" fill="none" stroke="#CC9900" stroke-width="0.45"/>
<rect x="430.18" y="153.78" width="1.6" height="1.6" fill="none" stroke="#CC9900" stroke-width="0.45"/>
<rect x="436.04" y="153.69" width="1.6" height="1.6" fill="none" stroke="#CC9900" stroke-width="0.45"/>
<rect x="441.90" y="153.61" width="1.6" height="1.6" fill="none" stroke="#CC9900" stroke-width="0.45"/>
<rect x="447.76" y="153.53" width="1.6" height="1.6" fill="none" stroke="#CC9900" stroke-width="0.45"/>
<rect x="453.62" y="153.46" width="1.6" height="1.6" fill="none" stroke="#CC9900" stroke-width="0.45"/>
<rect x="459.49" y="153.40" width="1.6" height="1.6" fill="none" stroke="#CC9900" stroke-width="0.45"/>
<rect x="465.35" y="153.34" width="1.6" height="1.6" fill="none" stroke="#CC9900" stroke-width="0.45"/>
<rect x="471.21" y="153.30" width="1.6" height="1.6" fill="none" stroke="#CC9900" stroke-width="0.45"/>
<rect x="477.07" y="153.26" width="1.6" height="1.6" fill="none" stroke="#CC9900" stroke-width="0.45"/>
<rect x="482.94" y="153.22" width="1.6" height="1.6" fill="none" stroke="#CC9900" stroke-width="0.45"/>
<rect x="488.80" y="153.18" width="1.6" height="1.6" fill="none" stroke="#CC9900" stroke-width="0.45"/>
<rect x="494.66" y="153.14" width="1.6" height="1.6" fill="none" stroke="#CC9900" stroke-width="0.45"/>
<rect x="500.53" y="153.09" width="1.6" height="1.6" fill="none" stroke="#CC9900" stroke-width="0.45"/>
<rect x="506.39" y="153.03" width="1.6" height="1.6" fill="none" stroke="#CC9900" stroke-width="0.45"/>
<rect x="512.25" y="152.97" width="1.6" height="1.6" fill="none" stroke="#CC9900" stroke-width="0.45"/>
<rect x="518.11" y="152.89" width="1.6" height="1.6" fill="none" stroke="#CC9900" stroke-width="0.45"/>
<rect x="523.98" y="152.81" width="1.6" height="1.6" fill="none" stroke="#CC9900" stroke-width="0.45"/>
<rect x="529.84" y="152.71" width="1.6" height="1.6" fill="none" stroke="#CC9900" stroke-width="0.45"/>
<rect x="535.70" y="152.61" width="1.6" height="1.6" fill="none" stroke="#CC9900" stroke-width="0.45"/>
<rect x="541.56" y="152.49" width="1.6" height="1.6" fill="none" stroke="#CC9900" stroke-width="0.45"/>
<rect x="547.43" y="152.37" width="1.6" height="1.6" fill="none" stroke="#CC9900" stroke-width="0.45"/>
<rect x="553.29" y="152.23" width="1.6" height="1.6" fill="none" stroke="#CC9900" stroke-width="0.45"/>
<rect x="559.15" y="152.08" width="1.6" height="1.6" fill="none" stroke="#CC9900" stroke-width="0.45"/>
<rect x="565.01" y="151.91" width="1.6" height="1.6" fill="none" stroke="#CC9900" stroke-width="0.45"/>
<rect x="570.88" y="151.73" width="1.6" height="1.6" fill="none" stroke="#CC9900" stroke-width="0.45"/>
<rect x="576.74" y="151.53" width="1.6" height="1.6" fill="none" stroke="#CC9900" stroke-width="0.45"/>
<rect x="582.60" y="151.31" width="1.6" height="1.6" fill="none" stroke="#CC9900" stroke-width="0.45"/>
<rect x="588.46" y="151.08" width="1.6" height="1.6" fill="none" stroke="#CC9900" stroke-width="0.45"/>
<rect x="594.33" y="150.83" width="1.6" height="1.6" fill="none" stroke="#CC9900" stroke-width="0.45"/>
<rect x="600.19" y="150.56" width="1.6" height="1.6" fill="none" stroke="#CC9900" stroke-width="0.45"/>
<rect x="606.05" y="150.24" width="1.6" height="1.6" fill="none" stroke="#CC9900" stroke-width="0.45"/>
<rect x="611.91" y="149.58" width="1.6" height="1.6" fill="none" stroke="#CC9900" stroke-width="0.45"/>
<polyline points="602.16,151.50 603.10,151.49 604.04,151.47 604.97,151.44 605.91,151.40 606.85,151.35 607.79,151.29 608.73,151.22 609.66,151.14 610.60,151.06 611.54,150.97 612.48,150.87 613.42,150.77 614.35,150.63 615.29,150.43 616.23,150.21 617.17,149.96 618.11,149.70" fill="none" stroke="#CC9900" stroke-width="1.1" stroke-linejoin="round" stroke-linecap="round" />
<rect x="606.05" y="150.55" width="1.6" height="1.6" fill="none" stroke="#CC9900" stroke-width="0.45"/>
<rect x="611.91" y="150.05" width="1.6" height="1.6" fill="none" stroke="#CC9900" stroke-width="0.45"/>
<polyline points="406.82,128.90 407.76,128.79 408.70,128.67 409.64,128.56 410.57,128.44 411.51,128.33 412.45,128.22 413.39,128.10 414.33,127.99 415.26,127.88 416.20,127.77 417.14,127.66 418.08,127.54 419.02,127.43 419.95,127.32 420.89,127.21 421.83,127.10 422.77,127.00 423.71,126.89 424.64,126.78 425.58,126.67 426.52,126.56 427.46,126.46 428.40,126.35 429.33,126.24 430.27,126.14 431.21,126.03 432.15,125.93 433.09,125.82 434.02,125.72 434.96,125.62 435.90,125.51 436.84,125.41 437.78,125.31 438.71,125.20 439.65,125.10 440.59,125.00 441.53,124.90 442.47,124.80 443.40,124.70 444.34,124.60 445.28,124.50 446.22,124.40 447.16,124.30 448.09,124.21 449.03,124.11 449.97,124.01 450.91,123.92 451.85,123.82 452.78,123.72 453.72,123.63 454.66,123.54 455.60,123.44 456.54,123.35 457.47,123.25 458.41,123.16 459.35,123.07 460.29,122.98 461.23,122.89 462.16,122.80 463.10,122.71 464.04,122.62 464.98,122.53 465.92,122.44 466.85,122.36 467.79,122.27 468.73,122.19 469.67,122.10 470.61,122.02 471.54,121.94 472.48,121.86 473.42,121.78 474.36,121.69 475.30,121.61 476.23,121.53 477.17,121.45 478.11,121.37 479.05,121.29 479.99,121.22 480.92,121.14 481.86,121.06 482.80,120.98 483.74,120.90 484.68,120.82 485.61,120.74 486.55,120.67 487.49,120.59 488.43,120.51 489.37,120.43 490.30,120.35 491.24,120.28 492.18,120.20 493.12,120.12 494.06,120.04 494.99,119.96 495.93,119.88 496.87,119.80 497.81,119.72 498.75,119.64 499.68,119.56 500.62,119.48 501.56,119.39 502.50,119.31 503.44,119.23 504.37,119.14 505.31,119.06 506.25,118.97 507.19,118.89 508.13,118.80 509.06,118.71 510.00,118.62 510.94,118.53 511.88,118.44 512.82,118.34 513.75,118.25 514.69,118.15 515.63,118.05 516.57,117.95 517.51,117.85 518.44,117.75 519.38,117.66 520.32,117.56 521.26,117.47 522.20,117.37 523.13,117.29 524.07,117.20 525.01,117.12 525.95,117.05 526.89,116.99 527.82,116.93 528.76,116.87 529.70,116.82 530.64,116.76 531.58,116.70 532.51,116.63 533.45,116.55 534.39,116.46 535.33,116.35 536.27,116.23 537.20,116.06 538.14,115.77 539.08,115.41 540.02,115.01 540.96,114.63 541.89,114.30 542.83,114.05 543.77,113.84 544.71,113.64 545.65,113.42 546.58,113.15 547.52,112.80 548.46,112.17 549.40,111.17 550.34,109.94 551.27,108.62 552.21,107.34 553.15,106.23 554.09,105.32 555.03,104.40 555.96,103.51 556.90,102.69 557.84,102.00 558.78,101.48 559.72,101.15 560.65,100.87 561.59,100.62 562.53,100.38 563.47,100.16 564.41,99.95 565.34,99.76 566.28,99.59 567.22,99.43 568.16,99.27 569.10,99.13 570.03,99.00 570.97,98.88 571.91,98.76 572.85,98.64 573.79,98.53 574.72,98.42 575.66,98.32 576.60,98.21 577.54,98.10 578.48,97.98 579.41,97.87 580.35,97.74 581.29,97.61 582.23,97.48 583.17,97.33 584.10,97.17 585.04,97.00 585.98,96.82 586.92,96.65 587.86,96.47 588.79,96.29 589.73,96.11 590.67,95.94 591.61,95.76 592.55,95.58 593.48,95.39 594.42,95.21 595.36,95.03 596.30,94.84 597.24,94.65 598.17,94.45 599.11,94.26 600.05,94.06 600.99,93.86 601.93,93.65 602.86,93.44 603.80,93.23 604.74,93.01 605.68,92.78 606.62,92.55 607.55,92.32 608.49,92.08 609.43,91.84 610.37,91.59 611.31,91.33 612.24,91.07 613.18,90.79 614.12,90.48 615.06,90.15 616.00,89.80 616.93,89.45 617.87,89.09 618.11,89.00" fill="none" stroke="#37AD6B" stroke-width="1.1" stroke-linejoin="round" stroke-linecap="round" />
<rect x="406.73" y="128.01" width="1.6" height="1.6" fill="none" stroke="#37AD6B" stroke-width="0.45"/>
<rect x="412.59" y="127.30" width="1.6" height="1.6" fill="none" stroke="#37AD6B" stroke-width="0.45"/>
<rect x="418.45" y="126.61" width="1.6" height="1.6" fill="none" stroke="#37AD6B" stroke-width="0.45"/>
<rect x="424.31" y="125.92" width="1.6" height="1.6" fill="none" stroke="#37AD6B" stroke-width="0.45"/>
<rect x="430.18" y="125.26" width="1.6" height="1.6" fill="none" stroke="#37AD6B" stroke-width="0.45"/>
<rect x="436.04" y="124.61" width="1.6" height="1.6" fill="none" stroke="#37AD6B" stroke-width="0.45"/>
<rect x="441.90" y="123.98" width="1.6" height="1.6" fill="none" stroke="#37AD6B" stroke-width="0.45"/>
<rect x="447.76" y="123.36" width="1.6" height="1.6" fill="none" stroke="#37AD6B" stroke-width="0.45"/>
<rect x="453.62" y="122.76" width="1.6" height="1.6" fill="none" stroke="#37AD6B" stroke-width="0.45"/>
<rect x="459.49" y="122.18" width="1.6" height="1.6" fill="none" stroke="#37AD6B" stroke-width="0.45"/>
<rect x="465.35" y="121.62" width="1.6" height="1.6" fill="none" stroke="#37AD6B" stroke-width="0.45"/>
<rect x="471.21" y="121.10" width="1.6" height="1.6" fill="none" stroke="#37AD6B" stroke-width="0.45"/>
<rect x="477.07" y="120.59" width="1.6" height="1.6" fill="none" stroke="#37AD6B" stroke-width="0.45"/>
<rect x="482.94" y="120.10" width="1.6" height="1.6" fill="none" stroke="#37AD6B" stroke-width="0.45"/>
<rect x="488.80" y="119.61" width="1.6" height="1.6" fill="none" stroke="#37AD6B" stroke-width="0.45"/>
<rect x="494.66" y="119.12" width="1.6" height="1.6" fill="none" stroke="#37AD6B" stroke-width="0.45"/>
<rect x="500.53" y="118.61" width="1.6" height="1.6" fill="none" stroke="#37AD6B" stroke-width="0.45"/>
<rect x="506.39" y="118.09" width="1.6" height="1.6" fill="none" stroke="#37AD6B" stroke-width="0.45"/>
<rect x="512.25" y="117.52" width="1.6" height="1.6" fill="none" stroke="#37AD6B" stroke-width="0.45"/>
<rect x="518.11" y="116.91" width="1.6" height="1.6" fill="none" stroke="#37AD6B" stroke-width="0.45"/>
<rect x="523.98" y="116.34" width="1.6" height="1.6" fill="none" stroke="#37AD6B" stroke-width="0.45"/>
<rect x="529.84" y="115.96" width="1.6" height="1.6" fill="none" stroke="#37AD6B" stroke-width="0.45"/>
<rect x="535.70" y="115.40" width="1.6" height="1.6" fill="none" stroke="#37AD6B" stroke-width="0.45"/>
<rect x="541.56" y="113.37" width="1.6" height="1.6" fill="none" stroke="#37AD6B" stroke-width="0.45"/>
<rect x="547.43" y="111.57" width="1.6" height="1.6" fill="none" stroke="#37AD6B" stroke-width="0.45"/>
<rect x="553.29" y="104.52" width="1.6" height="1.6" fill="none" stroke="#37AD6B" stroke-width="0.45"/>
<rect x="559.15" y="100.28" width="1.6" height="1.6" fill="none" stroke="#37AD6B" stroke-width="0.45"/>
<rect x="565.01" y="98.87" width="1.6" height="1.6" fill="none" stroke="#37AD6B" stroke-width="0.45"/>
<rect x="570.88" y="97.99" width="1.6" height="1.6" fill="none" stroke="#37AD6B" stroke-width="0.45"/>
<rect x="576.74" y="97.30" width="1.6" height="1.6" fill="none" stroke="#37AD6B" stroke-width="0.45"/>
<rect x="582.60" y="96.49" width="1.6" height="1.6" fill="none" stroke="#37AD6B" stroke-width="0.45"/>
<rect x="588.46" y="95.40" width="1.6" height="1.6" fill="none" stroke="#37AD6B" stroke-width="0.45"/>
<rect x="594.33" y="94.27" width="1.6" height="1.6" fill="none" stroke="#37AD6B" stroke-width="0.45"/>
<rect x="600.19" y="93.06" width="1.6" height="1.6" fill="none" stroke="#37AD6B" stroke-width="0.45"/>
<rect x="606.05" y="91.70" width="1.6" height="1.6" fill="none" stroke="#37AD6B" stroke-width="0.45"/>
<rect x="611.91" y="90.13" width="1.6" height="1.6" fill="none" stroke="#37AD6B" stroke-width="0.45"/>
<polyline points="524.07,117.20 525.01,116.89 525.95,116.50 526.89,116.04 527.82,115.52 528.76,114.95 529.70,114.34 530.64,113.70 531.58,112.93 532.51,111.99 533.45,110.95 534.39,109.87 535.33,108.82 536.27,107.89 537.20,107.12 538.14,106.43 539.08,105.78 540.02,105.19 540.96,104.69 541.89,104.30 542.83,104.00 543.77,103.73 544.71,103.50 545.65,103.30 546.58,103.11 547.52,102.93 548.46,102.76 549.40,102.59 550.34,102.44 551.27,102.30 552.21,102.16 553.15,102.03 554.09,101.91 555.03,101.78 555.96,101.65 556.90,101.52 557.84,101.37 558.78,101.22 559.72,101.07 560.65,100.92 561.59,100.77 562.53,100.62 563.47,100.46 564.41,100.31 565.34,100.15 566.28,100.00 567.22,99.84 568.16,99.68 569.10,99.52 570.03,99.36 570.97,99.19 571.91,99.03 572.85,98.86 573.79,98.69 574.72,98.52 575.66,98.35 576.60,98.17 577.54,98.00 578.48,97.82 579.41,97.64 580.35,97.45 581.29,97.27 582.23,97.08 583.17,96.89 584.10,96.70 585.04,96.50 585.98,96.30 586.92,96.11 587.86,95.92 588.79,95.73 589.73,95.54 590.67,95.35 591.61,95.17 592.55,94.98 593.48,94.78 594.42,94.59 595.36,94.39 596.30,94.19 597.24,93.99 598.17,93.78 599.11,93.56 600.05,93.34 600.99,93.11 601.93,92.88 602.86,92.63 603.80,92.38 604.74,92.12 605.68,91.84 606.62,91.56 607.55,91.26 608.49,90.96 609.43,90.64 610.37,90.30 611.31,89.96 612.24,89.59 613.18,89.19 614.12,88.68 615.06,88.10 616.00,87.47 616.93,86.82 617.87,86.16 618.11,86.00" fill="none" stroke="#37AD6B" stroke-width="1.1" stroke-linejoin="round" stroke-linecap="round" />
<rect x="523.98" y="116.17" width="1.6" height="1.6" fill="none" stroke="#37AD6B" stroke-width="0.45"/>
<rect x="529.84" y="112.90" width="1.6" height="1.6" fill="none" stroke="#37AD6B" stroke-width="0.45"/>
<rect x="535.70" y="106.88" width="1.6" height="1.6" fill="none" stroke="#37AD6B" stroke-width="0.45"/>
<rect x="541.56" y="103.34" width="1.6" height="1.6" fill="none" stroke="#37AD6B" stroke-width="0.45"/>
<rect x="547.43" y="102.00" width="1.6" height="1.6" fill="none" stroke="#37AD6B" stroke-width="0.45"/>
<rect x="553.29" y="101.11" width="1.6" height="1.6" fill="none" stroke="#37AD6B" stroke-width="0.45"/>
<rect x="559.15" y="100.24" width="1.6" height="1.6" fill="none" stroke="#37AD6B" stroke-width="0.45"/>
<rect x="565.01" y="99.27" width="1.6" height="1.6" fill="none" stroke="#37AD6B" stroke-width="0.45"/>
<rect x="570.88" y="98.27" width="1.6" height="1.6" fill="none" stroke="#37AD6B" stroke-width="0.45"/>
<rect x="576.74" y="97.20" width="1.6" height="1.6" fill="none" stroke="#37AD6B" stroke-width="0.45"/>
<rect x="582.60" y="96.04" width="1.6" height="1.6" fill="none" stroke="#37AD6B" stroke-width="0.45"/>
<rect x="588.46" y="94.84" width="1.6" height="1.6" fill="none" stroke="#37AD6B" stroke-width="0.45"/>
<rect x="594.33" y="93.64" width="1.6" height="1.6" fill="none" stroke="#37AD6B" stroke-width="0.45"/>
<rect x="600.19" y="92.31" width="1.6" height="1.6" fill="none" stroke="#37AD6B" stroke-width="0.45"/>
<rect x="606.05" y="90.69" width="1.6" height="1.6" fill="none" stroke="#37AD6B" stroke-width="0.45"/>
<rect x="611.91" y="88.60" width="1.6" height="1.6" fill="none" stroke="#37AD6B" stroke-width="0.45"/>
<polyline points="406.82,93.40 407.76,93.27 408.70,93.13 409.64,93.00 410.57,92.87 411.51,92.73 412.45,92.60 413.39,92.47 414.33,92.34 415.26,92.21 416.20,92.08 417.14,91.95 418.08,91.83 419.02,91.70 419.95,91.57 420.89,91.45 421.83,91.32 422.77,91.19 423.71,91.07 424.64,90.95 425.58,90.82 426.52,90.70 427.46,90.58 428.40,90.46 429.33,90.34 430.27,90.22 431.21,90.10 432.15,89.98 433.09,89.86 434.02,89.74 434.96,89.63 435.90,89.51 436.84,89.40 437.78,89.28 438.71,89.17 439.65,89.06 440.59,88.94 441.53,88.83 442.47,88.72 443.40,88.61 444.34,88.50 445.28,88.39 446.22,88.29 447.16,88.18 448.09,88.07 449.03,87.97 449.97,87.86 450.91,87.76 451.85,87.65 452.78,87.55 453.72,87.45 454.66,87.35 455.60,87.25 456.54,87.15 457.47,87.05 458.41,86.96 459.35,86.86 460.29,86.76 461.23,86.67 462.16,86.58 463.10,86.48 464.04,86.39 464.98,86.30 465.92,86.21 466.85,86.12 467.79,86.03 468.73,85.94 469.67,85.85 470.61,85.76 471.54,85.68 472.48,85.59 473.42,85.50 474.36,85.42 475.30,85.33 476.23,85.25 477.17,85.16 478.11,85.08 479.05,84.99 479.99,84.91 480.92,84.83 481.86,84.74 482.80,84.66 483.74,84.58 484.68,84.49 485.61,84.41 486.55,84.33 487.49,84.24 488.43,84.16 489.37,84.08 490.30,83.99 491.24,83.91 492.18,83.83 493.12,83.74 494.06,83.66 494.99,83.58 495.93,83.49 496.87,83.41 497.81,83.32 498.75,83.24 499.68,83.15 500.62,83.06 501.56,82.98 502.50,82.89 503.44,82.81 504.37,82.73 505.31,82.65 506.25,82.57 507.19,82.49 508.13,82.41 509.06,82.33 510.00,82.25 510.94,82.17 511.88,82.08 512.82,82.00 513.75,81.91 514.69,81.82 515.63,81.72 516.57,81.63 517.51,81.53 518.44,81.42 519.38,81.32 520.32,81.23 521.26,81.13 522.20,81.04 523.13,80.95 524.07,80.86 525.01,80.77 525.95,80.68 526.89,80.59 527.82,80.50 528.76,80.41 529.70,80.32 530.64,80.22 531.58,80.12 532.51,80.01 533.45,79.91 534.39,79.79 535.33,79.68 536.27,79.55 537.20,79.42 538.14,79.28 539.08,79.14 540.02,78.99 540.96,78.83 541.89,78.66 542.83,78.48 543.77,78.29 544.71,78.09 545.65,77.88 546.58,77.66 547.52,77.42 548.46,77.17 549.40,76.92 550.34,76.64 551.27,76.33 552.21,75.82 553.15,75.13 554.09,74.27 555.03,73.27 555.96,71.85 556.90,69.74 557.84,67.83 558.78,66.65 559.72,65.61 560.65,64.72 561.59,64.04 562.53,63.60 563.47,63.32 564.41,63.06 565.34,62.82 566.28,62.60 567.22,62.41 568.16,62.23 569.10,62.07 570.03,61.92 570.97,61.78 571.91,61.66 572.85,61.54 573.79,61.43 574.72,61.33 575.66,61.23 576.60,61.13 577.54,61.03 578.48,60.93 579.41,60.83 580.35,60.72 581.29,60.61 582.23,60.48 583.17,60.35 584.10,60.20 585.04,60.04 585.98,59.87 586.92,59.70 587.86,59.52 588.79,59.35 589.73,59.17 590.67,58.99 591.61,58.81 592.55,58.62 593.48,58.43 594.42,58.24 595.36,58.05 596.30,57.85 597.24,57.65 598.17,57.45 599.11,57.24 600.05,57.02 600.99,56.80 601.93,56.58 602.86,56.35 603.80,56.11 604.74,55.87 605.68,55.62 606.62,55.36 607.55,55.10 608.49,54.82 609.43,54.52 610.37,54.22 611.31,53.89 612.24,53.56 613.18,53.22 614.12,52.87 615.06,52.51 616.00,52.14 616.93,51.77 617.87,51.39 618.11,51.30" fill="none" stroke="#F14040" stroke-width="1.1" stroke-linejoin="round" stroke-linecap="round" />
<rect x="406.73" y="92.50" width="1.6" height="1.6" fill="none" stroke="#F14040" stroke-width="0.45"/>
<rect x="409.66" y="92.08" width="1.6" height="1.6" fill="none" stroke="#F14040" stroke-width="0.45"/>
<rect x="412.59" y="91.67" width="1.6" height="1.6" fill="none" stroke="#F14040" stroke-width="0.45"/>
<rect x="415.52" y="91.27" width="1.6" height="1.6" fill="none" stroke="#F14040" stroke-width="0.45"/>
<rect x="418.45" y="90.87" width="1.6" height="1.6" fill="none" stroke="#F14040" stroke-width="0.45"/>
<rect x="421.38" y="90.47" width="1.6" height="1.6" fill="none" stroke="#F14040" stroke-width="0.45"/>
<rect x="424.31" y="90.08" width="1.6" height="1.6" fill="none" stroke="#F14040" stroke-width="0.45"/>
<rect x="427.24" y="89.70" width="1.6" height="1.6" fill="none" stroke="#F14040" stroke-width="0.45"/>
<rect x="430.18" y="89.33" width="1.6" height="1.6" fill="none" stroke="#F14040" stroke-width="0.45"/>
<rect x="433.11" y="88.96" width="1.6" height="1.6" fill="none" stroke="#F14040" stroke-width="0.45"/>
<rect x="436.04" y="88.60" width="1.6" height="1.6" fill="none" stroke="#F14040" stroke-width="0.45"/>
<rect x="438.97" y="88.24" width="1.6" height="1.6" fill="none" stroke="#F14040" stroke-width="0.45"/>
<rect x="441.90" y="87.89" width="1.6" height="1.6" fill="none" stroke="#F14040" stroke-width="0.45"/>
<rect x="444.83" y="87.55" width="1.6" height="1.6" fill="none" stroke="#F14040" stroke-width="0.45"/>
<rect x="447.76" y="87.22" width="1.6" height="1.6" fill="none" stroke="#F14040" stroke-width="0.45"/>
<rect x="450.69" y="86.89" width="1.6" height="1.6" fill="none" stroke="#F14040" stroke-width="0.45"/>
<rect x="453.62" y="86.57" width="1.6" height="1.6" fill="none" stroke="#F14040" stroke-width="0.45"/>
<rect x="456.56" y="86.27" width="1.6" height="1.6" fill="none" stroke="#F14040" stroke-width="0.45"/>
<rect x="459.49" y="85.96" width="1.6" height="1.6" fill="none" stroke="#F14040" stroke-width="0.45"/>
<rect x="462.42" y="85.67" width="1.6" height="1.6" fill="none" stroke="#F14040" stroke-width="0.45"/>
<rect x="465.35" y="85.39" width="1.6" height="1.6" fill="none" stroke="#F14040" stroke-width="0.45"/>
<rect x="468.28" y="85.11" width="1.6" height="1.6" fill="none" stroke="#F14040" stroke-width="0.45"/>
<rect x="471.21" y="84.83" width="1.6" height="1.6" fill="none" stroke="#F14040" stroke-width="0.45"/>
<rect x="474.14" y="84.56" width="1.6" height="1.6" fill="none" stroke="#F14040" stroke-width="0.45"/>
<rect x="477.07" y="84.30" width="1.6" height="1.6" fill="none" stroke="#F14040" stroke-width="0.45"/>
<rect x="480.01" y="84.04" width="1.6" height="1.6" fill="none" stroke="#F14040" stroke-width="0.45"/>
<rect x="482.94" y="83.78" width="1.6" height="1.6" fill="none" stroke="#F14040" stroke-width="0.45"/>
<rect x="485.87" y="83.52" width="1.6" height="1.6" fill="none" stroke="#F14040" stroke-width="0.45"/>
<rect x="488.80" y="83.26" width="1.6" height="1.6" fill="none" stroke="#F14040" stroke-width="0.45"/>
<rect x="491.73" y="83.00" width="1.6" height="1.6" fill="none" stroke="#F14040" stroke-width="0.45"/>
<rect x="494.66" y="82.73" width="1.6" height="1.6" fill="none" stroke="#F14040" stroke-width="0.45"/>
<rect x="497.59" y="82.47" width="1.6" height="1.6" fill="none" stroke="#F14040" stroke-width="0.45"/>
<rect x="500.52" y="82.20" width="1.6" height="1.6" fill="none" stroke="#F14040" stroke-width="0.45"/>
<rect x="503.46" y="81.94" width="1.6" height="1.6" fill="none" stroke="#F14040" stroke-width="0.45"/>
<rect x="506.39" y="81.69" width="1.6" height="1.6" fill="none" stroke="#F14040" stroke-width="0.45"/>
<rect x="509.32" y="81.44" width="1.6" height="1.6" fill="none" stroke="#F14040" stroke-width="0.45"/>
<rect x="512.25" y="81.17" width="1.6" height="1.6" fill="none" stroke="#F14040" stroke-width="0.45"/>
<rect x="515.18" y="80.89" width="1.6" height="1.6" fill="none" stroke="#F14040" stroke-width="0.45"/>
<rect x="518.11" y="80.57" width="1.6" height="1.6" fill="none" stroke="#F14040" stroke-width="0.45"/>
<rect x="521.04" y="80.28" width="1.6" height="1.6" fill="none" stroke="#F14040" stroke-width="0.45"/>
<rect x="523.98" y="79.99" width="1.6" height="1.6" fill="none" stroke="#F14040" stroke-width="0.45"/>
<rect x="526.91" y="79.71" width="1.6" height="1.6" fill="none" stroke="#F14040" stroke-width="0.45"/>
<rect x="529.84" y="79.42" width="1.6" height="1.6" fill="none" stroke="#F14040" stroke-width="0.45"/>
<rect x="532.77" y="79.09" width="1.6" height="1.6" fill="none" stroke="#F14040" stroke-width="0.45"/>
<rect x="535.70" y="78.72" width="1.6" height="1.6" fill="none" stroke="#F14040" stroke-width="0.45"/>
<rect x="538.63" y="78.28" width="1.6" height="1.6" fill="none" stroke="#F14040" stroke-width="0.45"/>
<rect x="541.56" y="77.77" width="1.6" height="1.6" fill="none" stroke="#F14040" stroke-width="0.45"/>
<rect x="544.49" y="77.16" width="1.6" height="1.6" fill="none" stroke="#F14040" stroke-width="0.45"/>
<rect x="547.43" y="76.44" width="1.6" height="1.6" fill="none" stroke="#F14040" stroke-width="0.45"/>
<rect x="550.36" y="75.58" width="1.6" height="1.6" fill="none" stroke="#F14040" stroke-width="0.45"/>
<rect x="553.29" y="73.47" width="1.6" height="1.6" fill="none" stroke="#F14040" stroke-width="0.45"/>
<rect x="556.22" y="68.67" width="1.6" height="1.6" fill="none" stroke="#F14040" stroke-width="0.45"/>
<rect x="559.15" y="64.57" width="1.6" height="1.6" fill="none" stroke="#F14040" stroke-width="0.45"/>
<rect x="562.08" y="62.69" width="1.6" height="1.6" fill="none" stroke="#F14040" stroke-width="0.45"/>
<rect x="565.01" y="61.91" width="1.6" height="1.6" fill="none" stroke="#F14040" stroke-width="0.45"/>
<rect x="567.94" y="61.33" width="1.6" height="1.6" fill="none" stroke="#F14040" stroke-width="0.45"/>
<rect x="570.88" y="60.89" width="1.6" height="1.6" fill="none" stroke="#F14040" stroke-width="0.45"/>
<rect x="573.81" y="60.54" width="1.6" height="1.6" fill="none" stroke="#F14040" stroke-width="0.45"/>
<rect x="576.74" y="60.23" width="1.6" height="1.6" fill="none" stroke="#F14040" stroke-width="0.45"/>
<rect x="579.67" y="59.91" width="1.6" height="1.6" fill="none" stroke="#F14040" stroke-width="0.45"/>
<rect x="582.60" y="59.51" width="1.6" height="1.6" fill="none" stroke="#F14040" stroke-width="0.45"/>
<rect x="585.53" y="59.01" width="1.6" height="1.6" fill="none" stroke="#F14040" stroke-width="0.45"/>
<rect x="588.46" y="58.46" width="1.6" height="1.6" fill="none" stroke="#F14040" stroke-width="0.45"/>
<rect x="591.39" y="57.89" width="1.6" height="1.6" fill="none" stroke="#F14040" stroke-width="0.45"/>
<rect x="594.33" y="57.30" width="1.6" height="1.6" fill="none" stroke="#F14040" stroke-width="0.45"/>
<rect x="597.26" y="56.67" width="1.6" height="1.6" fill="none" stroke="#F14040" stroke-width="0.45"/>
<rect x="600.19" y="56.00" width="1.6" height="1.6" fill="none" stroke="#F14040" stroke-width="0.45"/>
<rect x="603.12" y="55.28" width="1.6" height="1.6" fill="none" stroke="#F14040" stroke-width="0.45"/>
<rect x="606.05" y="54.50" width="1.6" height="1.6" fill="none" stroke="#F14040" stroke-width="0.45"/>
<rect x="608.98" y="53.61" width="1.6" height="1.6" fill="none" stroke="#F14040" stroke-width="0.45"/>
<rect x="611.91" y="52.59" width="1.6" height="1.6" fill="none" stroke="#F14040" stroke-width="0.45"/>
<rect x="614.84" y="51.48" width="1.6" height="1.6" fill="none" stroke="#F14040" stroke-width="0.45"/>
<polyline points="406.82,92.40 407.76,92.27 408.70,92.14 409.64,92.00 410.57,91.87 411.51,91.74 412.45,91.61 413.39,91.48 414.33,91.35 415.26,91.22 416.20,91.09 417.14,90.96 418.08,90.84 419.02,90.71 419.95,90.58 420.89,90.45 421.83,90.33 422.77,90.20 423.71,90.07 424.64,89.95 425.58,89.82 426.52,89.70 427.46,89.57 428.40,89.45 429.33,89.33 430.27,89.20 431.21,89.08 432.15,88.96 433.09,88.84 434.02,88.71 434.96,88.59 435.90,88.47 436.84,88.35 437.78,88.23 438.71,88.11 439.65,87.99 440.59,87.87 441.53,87.76 442.47,87.64 443.40,87.52 444.34,87.40 445.28,87.29 446.22,87.17 447.16,87.05 448.09,86.94 449.03,86.82 449.97,86.71 450.91,86.60 451.85,86.48 452.78,86.37 453.72,86.26 454.66,86.14 455.60,86.03 456.54,85.92 457.47,85.81 458.41,85.70 459.35,85.59 460.29,85.48 461.23,85.38 462.16,85.27 463.10,85.16 464.04,85.05 464.98,84.95 465.92,84.84 466.85,84.74 467.79,84.63 468.73,84.53 469.67,84.43 470.61,84.32 471.54,84.22 472.48,84.12 473.42,84.01 474.36,83.91 475.30,83.81 476.23,83.71 477.17,83.61 478.11,83.50 479.05,83.40 479.99,83.30 480.92,83.20 481.86,83.10 482.80,83.00 483.74,82.90 484.68,82.80 485.61,82.70 486.55,82.60 487.49,82.50 488.43,82.40 489.37,82.30 490.30,82.19 491.24,82.09 492.18,81.99 493.12,81.89 494.06,81.79 494.99,81.69 495.93,81.59 496.87,81.49 497.81,81.38 498.75,81.28 499.68,81.18 500.62,81.08 501.56,80.97 502.50,80.88 503.44,80.78 504.37,80.69 505.31,80.61 506.25,80.53 507.19,80.44 508.13,80.36 509.06,80.28 510.00,80.19 510.94,80.10 511.88,80.00 512.82,79.90 513.75,79.78 514.69,79.66 515.63,79.53 516.57,79.39 517.51,79.24 518.44,79.07 519.38,78.85 520.32,78.60 521.26,78.31 522.20,78.00 523.13,77.65 524.07,77.29 525.01,76.90 525.95,76.50 526.89,76.07 527.82,75.56 528.76,75.00 529.70,74.38 530.64,73.73 531.58,73.04 532.51,72.35 533.45,71.65 534.39,70.96 535.33,70.29 536.27,69.65 537.20,69.03 538.14,68.38 539.08,67.72 540.02,67.07 540.96,66.45 541.89,65.89 542.83,65.40 543.77,65.01 544.71,64.68 545.65,64.38 546.58,64.10 547.52,63.85 548.46,63.62 549.40,63.40 550.34,63.20 551.27,63.00 552.21,62.82 553.15,62.63 554.09,62.46 555.03,62.29 555.96,62.13 556.90,61.97 557.84,61.82 558.78,61.68 559.72,61.53 560.65,61.39 561.59,61.26 562.53,61.13 563.47,61.00 564.41,60.87 565.34,60.75 566.28,60.62 567.22,60.50 568.16,60.38 569.10,60.26 570.03,60.14 570.97,60.02 571.91,59.90 572.85,59.78 573.79,59.66 574.72,59.53 575.66,59.41 576.60,59.28 577.54,59.15 578.48,59.01 579.41,58.87 580.35,58.73 581.29,58.58 582.23,58.43 583.17,58.27 584.10,58.11 585.04,57.94 585.98,57.77 586.92,57.60 587.86,57.43 588.79,57.25 589.73,57.08 590.67,56.90 591.61,56.72 592.55,56.54 593.48,56.36 594.42,56.17 595.36,55.97 596.30,55.77 597.24,55.57 598.17,55.36 599.11,55.14 600.05,54.91 600.99,54.68 601.93,54.44 602.86,54.18 603.80,53.92 604.74,53.65 605.68,53.37 606.62,53.08 607.55,52.76 608.49,52.42 609.43,52.04 610.37,51.63 611.31,51.19 612.24,50.73 613.18,50.25 614.12,49.75 615.06,49.23 616.00,48.71 616.93,48.18 617.87,47.64 618.11,47.50" fill="none" stroke="#F14040" stroke-width="1.1" stroke-linejoin="round" stroke-linecap="round" />
<rect x="406.73" y="91.50" width="1.6" height="1.6" fill="none" stroke="#F14040" stroke-width="0.45"/>
<rect x="409.66" y="91.09" width="1.6" height="1.6" fill="none" stroke="#F14040" stroke-width="0.45"/>
<rect x="412.59" y="90.68" width="1.6" height="1.6" fill="none" stroke="#F14040" stroke-width="0.45"/>
<rect x="415.52" y="90.28" width="1.6" height="1.6" fill="none" stroke="#F14040" stroke-width="0.45"/>
<rect x="418.45" y="89.88" width="1.6" height="1.6" fill="none" stroke="#F14040" stroke-width="0.45"/>
<rect x="421.38" y="89.48" width="1.6" height="1.6" fill="none" stroke="#F14040" stroke-width="0.45"/>
<rect x="424.31" y="89.09" width="1.6" height="1.6" fill="none" stroke="#F14040" stroke-width="0.45"/>
<rect x="427.24" y="88.70" width="1.6" height="1.6" fill="none" stroke="#F14040" stroke-width="0.45"/>
<rect x="430.18" y="88.31" width="1.6" height="1.6" fill="none" stroke="#F14040" stroke-width="0.45"/>
<rect x="433.11" y="87.93" width="1.6" height="1.6" fill="none" stroke="#F14040" stroke-width="0.45"/>
<rect x="436.04" y="87.55" width="1.6" height="1.6" fill="none" stroke="#F14040" stroke-width="0.45"/>
<rect x="438.97" y="87.18" width="1.6" height="1.6" fill="none" stroke="#F14040" stroke-width="0.45"/>
<rect x="441.90" y="86.81" width="1.6" height="1.6" fill="none" stroke="#F14040" stroke-width="0.45"/>
<rect x="444.83" y="86.44" width="1.6" height="1.6" fill="none" stroke="#F14040" stroke-width="0.45"/>
<rect x="447.76" y="86.08" width="1.6" height="1.6" fill="none" stroke="#F14040" stroke-width="0.45"/>
<rect x="450.69" y="85.72" width="1.6" height="1.6" fill="none" stroke="#F14040" stroke-width="0.45"/>
<rect x="453.62" y="85.37" width="1.6" height="1.6" fill="none" stroke="#F14040" stroke-width="0.45"/>
<rect x="456.56" y="85.02" width="1.6" height="1.6" fill="none" stroke="#F14040" stroke-width="0.45"/>
<rect x="459.49" y="84.68" width="1.6" height="1.6" fill="none" stroke="#F14040" stroke-width="0.45"/>
<rect x="462.42" y="84.35" width="1.6" height="1.6" fill="none" stroke="#F14040" stroke-width="0.45"/>
<rect x="465.35" y="84.02" width="1.6" height="1.6" fill="none" stroke="#F14040" stroke-width="0.45"/>
<rect x="468.28" y="83.69" width="1.6" height="1.6" fill="none" stroke="#F14040" stroke-width="0.45"/>
<rect x="471.21" y="83.37" width="1.6" height="1.6" fill="none" stroke="#F14040" stroke-width="0.45"/>
<rect x="474.14" y="83.05" width="1.6" height="1.6" fill="none" stroke="#F14040" stroke-width="0.45"/>
<rect x="477.07" y="82.73" width="1.6" height="1.6" fill="none" stroke="#F14040" stroke-width="0.45"/>
<rect x="480.01" y="82.41" width="1.6" height="1.6" fill="none" stroke="#F14040" stroke-width="0.45"/>
<rect x="482.94" y="82.10" width="1.6" height="1.6" fill="none" stroke="#F14040" stroke-width="0.45"/>
<rect x="485.87" y="81.78" width="1.6" height="1.6" fill="none" stroke="#F14040" stroke-width="0.45"/>
<rect x="488.80" y="81.47" width="1.6" height="1.6" fill="none" stroke="#F14040" stroke-width="0.45"/>
<rect x="491.73" y="81.16" width="1.6" height="1.6" fill="none" stroke="#F14040" stroke-width="0.45"/>
<rect x="494.66" y="80.84" width="1.6" height="1.6" fill="none" stroke="#F14040" stroke-width="0.45"/>
<rect x="497.59" y="80.52" width="1.6" height="1.6" fill="none" stroke="#F14040" stroke-width="0.45"/>
<rect x="500.52" y="80.20" width="1.6" height="1.6" fill="none" stroke="#F14040" stroke-width="0.45"/>
<rect x="503.46" y="79.91" width="1.6" height="1.6" fill="none" stroke="#F14040" stroke-width="0.45"/>
<rect x="506.39" y="79.64" width="1.6" height="1.6" fill="none" stroke="#F14040" stroke-width="0.45"/>
<rect x="509.32" y="79.38" width="1.6" height="1.6" fill="none" stroke="#F14040" stroke-width="0.45"/>
<rect x="512.25" y="79.07" width="1.6" height="1.6" fill="none" stroke="#F14040" stroke-width="0.45"/>
<rect x="515.18" y="78.68" width="1.6" height="1.6" fill="none" stroke="#F14040" stroke-width="0.45"/>
<rect x="518.11" y="78.16" width="1.6" height="1.6" fill="none" stroke="#F14040" stroke-width="0.45"/>
<rect x="521.04" y="77.32" width="1.6" height="1.6" fill="none" stroke="#F14040" stroke-width="0.45"/>
<rect x="523.98" y="76.20" width="1.6" height="1.6" fill="none" stroke="#F14040" stroke-width="0.45"/>
<rect x="526.91" y="74.83" width="1.6" height="1.6" fill="none" stroke="#F14040" stroke-width="0.45"/>
<rect x="529.84" y="72.93" width="1.6" height="1.6" fill="none" stroke="#F14040" stroke-width="0.45"/>
<rect x="532.77" y="70.76" width="1.6" height="1.6" fill="none" stroke="#F14040" stroke-width="0.45"/>
<rect x="535.70" y="68.70" width="1.6" height="1.6" fill="none" stroke="#F14040" stroke-width="0.45"/>
<rect x="538.63" y="66.67" width="1.6" height="1.6" fill="none" stroke="#F14040" stroke-width="0.45"/>
<rect x="541.56" y="64.83" width="1.6" height="1.6" fill="none" stroke="#F14040" stroke-width="0.45"/>
<rect x="544.49" y="63.69" width="1.6" height="1.6" fill="none" stroke="#F14040" stroke-width="0.45"/>
<rect x="547.43" y="62.87" width="1.6" height="1.6" fill="none" stroke="#F14040" stroke-width="0.45"/>
<rect x="550.36" y="62.23" width="1.6" height="1.6" fill="none" stroke="#F14040" stroke-width="0.45"/>
<rect x="553.29" y="61.66" width="1.6" height="1.6" fill="none" stroke="#F14040" stroke-width="0.45"/>
<rect x="556.22" y="61.15" width="1.6" height="1.6" fill="none" stroke="#F14040" stroke-width="0.45"/>
<rect x="559.15" y="60.70" width="1.6" height="1.6" fill="none" stroke="#F14040" stroke-width="0.45"/>
<rect x="562.08" y="60.28" width="1.6" height="1.6" fill="none" stroke="#F14040" stroke-width="0.45"/>
<rect x="565.01" y="59.89" width="1.6" height="1.6" fill="none" stroke="#F14040" stroke-width="0.45"/>
<rect x="567.94" y="59.51" width="1.6" height="1.6" fill="none" stroke="#F14040" stroke-width="0.45"/>
<rect x="570.88" y="59.13" width="1.6" height="1.6" fill="none" stroke="#F14040" stroke-width="0.45"/>
<rect x="573.81" y="58.75" width="1.6" height="1.6" fill="none" stroke="#F14040" stroke-width="0.45"/>
<rect x="576.74" y="58.35" width="1.6" height="1.6" fill="none" stroke="#F14040" stroke-width="0.45"/>
<rect x="579.67" y="57.91" width="1.6" height="1.6" fill="none" stroke="#F14040" stroke-width="0.45"/>
<rect x="582.60" y="57.43" width="1.6" height="1.6" fill="none" stroke="#F14040" stroke-width="0.45"/>
<rect x="585.53" y="56.91" width="1.6" height="1.6" fill="none" stroke="#F14040" stroke-width="0.45"/>
<rect x="588.46" y="56.37" width="1.6" height="1.6" fill="none" stroke="#F14040" stroke-width="0.45"/>
<rect x="591.39" y="55.81" width="1.6" height="1.6" fill="none" stroke="#F14040" stroke-width="0.45"/>
<rect x="594.33" y="55.22" width="1.6" height="1.6" fill="none" stroke="#F14040" stroke-width="0.45"/>
<rect x="597.26" y="54.58" width="1.6" height="1.6" fill="none" stroke="#F14040" stroke-width="0.45"/>
<rect x="600.19" y="53.88" width="1.6" height="1.6" fill="none" stroke="#F14040" stroke-width="0.45"/>
<rect x="603.12" y="53.09" width="1.6" height="1.6" fill="none" stroke="#F14040" stroke-width="0.45"/>
<rect x="606.05" y="52.20" width="1.6" height="1.6" fill="none" stroke="#F14040" stroke-width="0.45"/>
<rect x="608.98" y="51.08" width="1.6" height="1.6" fill="none" stroke="#F14040" stroke-width="0.45"/>
<rect x="611.91" y="49.69" width="1.6" height="1.6" fill="none" stroke="#F14040" stroke-width="0.45"/>
<rect x="614.84" y="48.11" width="1.6" height="1.6" fill="none" stroke="#F14040" stroke-width="0.45"/>
<polyline points="406.82,142.50 407.76,142.37 408.70,142.25 409.64,142.12 410.57,142.00 411.51,141.87 412.45,141.75 413.39,141.63 414.33,141.51 415.26,141.39 416.20,141.27 417.14,141.15 418.08,141.03 419.02,140.91 419.95,140.79 420.89,140.67 421.83,140.56 422.77,140.44 423.71,140.33 424.64,140.21 425.58,140.10 426.52,139.99 427.46,139.88 428.40,139.77 429.33,139.66 430.27,139.55 431.21,139.44 432.15,139.33 433.09,139.23 434.02,139.12 434.96,139.02 435.90,138.92 436.84,138.81 437.78,138.71 438.71,138.61 439.65,138.51 440.59,138.41 441.53,138.31 442.47,138.22 443.40,138.12 444.34,138.03 445.28,137.93 446.22,137.84 447.16,137.75 448.09,137.66 449.03,137.57 449.97,137.48 450.91,137.39 451.85,137.31 452.78,137.22 453.72,137.14 454.66,137.05 455.60,136.97 456.54,136.89 457.47,136.81 458.41,136.73 459.35,136.66 460.29,136.58 461.23,136.51 462.16,136.44 463.10,136.37 464.04,136.30 464.98,136.23 465.92,136.17 466.85,136.11 467.79,136.05 468.73,135.99 469.67,135.93 470.61,135.87 471.54,135.82 472.48,135.77 473.42,135.71 474.36,135.66 475.30,135.61 476.23,135.56 477.17,135.51 478.11,135.46 479.05,135.42 479.99,135.37 480.92,135.32 481.86,135.27 482.80,135.23 483.74,135.18 484.68,135.13 485.61,135.08 486.55,135.03 487.49,134.99 488.43,134.94 489.37,134.89 490.30,134.84 491.24,134.78 492.18,134.73 493.12,134.68 494.06,134.62 494.99,134.57 495.93,134.51 496.87,134.45 497.81,134.39 498.75,134.33 499.68,134.27 500.62,134.20 501.56,134.13 502.50,134.06 503.44,133.99 504.37,133.92 505.31,133.84 506.25,133.76 507.19,133.68 508.13,133.60 509.06,133.51 510.00,133.42 510.94,133.32 511.88,133.20 512.82,133.06 513.75,132.91 514.69,132.74 515.63,132.56 516.57,132.38 517.51,132.20 518.44,132.02 519.38,131.85 520.32,131.69 521.26,131.54 522.20,131.41 523.13,131.31 524.07,131.23 525.01,131.18 525.95,131.14 526.89,131.10 527.82,131.08 528.76,131.05 529.70,131.03 530.64,131.02 531.58,131.00 532.51,130.97 533.45,130.95 534.39,130.92 535.33,130.88 536.27,130.83 537.20,130.76 538.14,130.64 539.08,130.46 540.02,130.24 540.96,129.98 541.89,129.70 542.83,129.36 543.77,128.94 544.71,128.43 545.65,127.84 546.58,127.20 547.52,126.50 548.46,125.58 549.40,124.37 550.34,123.02 551.27,121.67 552.21,120.47 553.15,119.56 554.09,118.97 555.03,118.46 555.96,118.00 556.90,117.61 557.84,117.28 558.78,117.01 559.72,116.80 560.65,116.61 561.59,116.44 562.53,116.27 563.47,116.12 564.41,115.98 565.34,115.85 566.28,115.73 567.22,115.62 568.16,115.51 569.10,115.41 570.03,115.32 570.97,115.23 571.91,115.14 572.85,115.06 573.79,114.97 574.72,114.89 575.66,114.80 576.60,114.72 577.54,114.63 578.48,114.53 579.41,114.44 580.35,114.33 581.29,114.22 582.23,114.11 583.17,113.98 584.10,113.85 585.04,113.70 585.98,113.55 586.92,113.40 587.86,113.24 588.79,113.09 589.73,112.93 590.67,112.77 591.61,112.61 592.55,112.44 593.48,112.28 594.42,112.10 595.36,111.92 596.30,111.74 597.24,111.55 598.17,111.36 599.11,111.15 600.05,110.95 600.99,110.73 601.93,110.51 602.86,110.27 603.80,110.03 604.74,109.78 605.68,109.52 606.62,109.25 607.55,108.97 608.49,108.68 609.43,108.38 610.37,108.07 611.31,107.74 612.24,107.40 613.18,107.00 614.12,106.50 615.06,105.94 616.00,105.33 616.93,104.69 617.87,104.06 618.11,103.90" fill="none" stroke="#B177DE" stroke-width="1.1" stroke-linejoin="round" stroke-linecap="round" />
<rect x="406.73" y="141.61" width="1.6" height="1.6" fill="none" stroke="#B177DE" stroke-width="0.45"/>
<rect x="412.59" y="140.83" width="1.6" height="1.6" fill="none" stroke="#B177DE" stroke-width="0.45"/>
<rect x="418.45" y="140.08" width="1.6" height="1.6" fill="none" stroke="#B177DE" stroke-width="0.45"/>
<rect x="424.31" y="139.36" width="1.6" height="1.6" fill="none" stroke="#B177DE" stroke-width="0.45"/>
<rect x="430.18" y="138.67" width="1.6" height="1.6" fill="none" stroke="#B177DE" stroke-width="0.45"/>
<rect x="436.04" y="138.01" width="1.6" height="1.6" fill="none" stroke="#B177DE" stroke-width="0.45"/>
<rect x="441.90" y="137.39" width="1.6" height="1.6" fill="none" stroke="#B177DE" stroke-width="0.45"/>
<rect x="447.76" y="136.81" width="1.6" height="1.6" fill="none" stroke="#B177DE" stroke-width="0.45"/>
<rect x="453.62" y="136.28" width="1.6" height="1.6" fill="none" stroke="#B177DE" stroke-width="0.45"/>
<rect x="459.49" y="135.78" width="1.6" height="1.6" fill="none" stroke="#B177DE" stroke-width="0.45"/>
<rect x="465.35" y="135.35" width="1.6" height="1.6" fill="none" stroke="#B177DE" stroke-width="0.45"/>
<rect x="471.21" y="134.99" width="1.6" height="1.6" fill="none" stroke="#B177DE" stroke-width="0.45"/>
<rect x="477.07" y="134.68" width="1.6" height="1.6" fill="none" stroke="#B177DE" stroke-width="0.45"/>
<rect x="482.94" y="134.38" width="1.6" height="1.6" fill="none" stroke="#B177DE" stroke-width="0.45"/>
<rect x="488.80" y="134.07" width="1.6" height="1.6" fill="none" stroke="#B177DE" stroke-width="0.45"/>
<rect x="494.66" y="133.74" width="1.6" height="1.6" fill="none" stroke="#B177DE" stroke-width="0.45"/>
<rect x="500.53" y="133.35" width="1.6" height="1.6" fill="none" stroke="#B177DE" stroke-width="0.45"/>
<rect x="506.39" y="132.88" width="1.6" height="1.6" fill="none" stroke="#B177DE" stroke-width="0.45"/>
<rect x="512.25" y="132.22" width="1.6" height="1.6" fill="none" stroke="#B177DE" stroke-width="0.45"/>
<rect x="518.11" y="131.13" width="1.6" height="1.6" fill="none" stroke="#B177DE" stroke-width="0.45"/>
<rect x="523.98" y="130.39" width="1.6" height="1.6" fill="none" stroke="#B177DE" stroke-width="0.45"/>
<rect x="529.84" y="130.22" width="1.6" height="1.6" fill="none" stroke="#B177DE" stroke-width="0.45"/>
<rect x="535.70" y="130.01" width="1.6" height="1.6" fill="none" stroke="#B177DE" stroke-width="0.45"/>
<rect x="541.56" y="128.74" width="1.6" height="1.6" fill="none" stroke="#B177DE" stroke-width="0.45"/>
<rect x="547.43" y="125.04" width="1.6" height="1.6" fill="none" stroke="#B177DE" stroke-width="0.45"/>
<rect x="553.29" y="118.17" width="1.6" height="1.6" fill="none" stroke="#B177DE" stroke-width="0.45"/>
<rect x="559.15" y="115.95" width="1.6" height="1.6" fill="none" stroke="#B177DE" stroke-width="0.45"/>
<rect x="565.01" y="114.99" width="1.6" height="1.6" fill="none" stroke="#B177DE" stroke-width="0.45"/>
<rect x="570.88" y="114.36" width="1.6" height="1.6" fill="none" stroke="#B177DE" stroke-width="0.45"/>
<rect x="576.74" y="113.83" width="1.6" height="1.6" fill="none" stroke="#B177DE" stroke-width="0.45"/>
<rect x="582.60" y="113.15" width="1.6" height="1.6" fill="none" stroke="#B177DE" stroke-width="0.45"/>
<rect x="588.46" y="112.21" width="1.6" height="1.6" fill="none" stroke="#B177DE" stroke-width="0.45"/>
<rect x="594.33" y="111.17" width="1.6" height="1.6" fill="none" stroke="#B177DE" stroke-width="0.45"/>
<rect x="600.19" y="109.93" width="1.6" height="1.6" fill="none" stroke="#B177DE" stroke-width="0.45"/>
<rect x="606.05" y="108.38" width="1.6" height="1.6" fill="none" stroke="#B177DE" stroke-width="0.45"/>
<rect x="611.91" y="106.41" width="1.6" height="1.6" fill="none" stroke="#B177DE" stroke-width="0.45"/>
<polyline points="524.54,131.20 525.48,130.66 526.42,130.09 527.35,129.48 528.29,128.83 529.23,128.16 530.17,127.46 531.11,126.71 532.04,125.84 532.98,124.89 533.92,123.93 534.86,123.04 535.80,122.29 536.73,121.74 537.67,121.27 538.61,120.84 539.55,120.46 540.49,120.13 541.42,119.83 542.36,119.57 543.30,119.34 544.24,119.12 545.18,118.92 546.11,118.73 547.05,118.55 547.99,118.38 548.93,118.22 549.87,118.07 550.80,117.91 551.74,117.76 552.68,117.61 553.62,117.46 554.56,117.31 555.49,117.17 556.43,117.03 557.37,116.90 558.31,116.77 559.25,116.64 560.18,116.52 561.12,116.40 562.06,116.28 563.00,116.17 563.94,116.05 564.87,115.94 565.81,115.83 566.75,115.72 567.69,115.61 568.63,115.51 569.56,115.40 570.50,115.29 571.44,115.17 572.38,115.06 573.32,114.95 574.25,114.83 575.19,114.71 576.13,114.59 577.07,114.46 578.01,114.33 578.94,114.20 579.88,114.06 580.82,113.92 581.76,113.77 582.70,113.61 583.63,113.45 584.57,113.29 585.51,113.11 586.45,112.94 587.39,112.76 588.32,112.58 589.26,112.39 590.20,112.20 591.14,112.01 592.08,111.81 593.01,111.61 593.95,111.40 594.89,111.19 595.83,110.97 596.77,110.74 597.70,110.50 598.64,110.26 599.58,110.00 600.52,109.74 601.46,109.47 602.39,109.19 603.33,108.89 604.27,108.59 605.21,108.27 606.15,107.95 607.08,107.61 608.02,107.26 608.96,106.89 609.90,106.51 610.84,106.12 611.77,105.71 612.71,105.27 613.65,104.72 614.59,104.06 615.53,103.34 616.46,102.57 617.40,101.78 618.11,101.20" fill="none" stroke="#B177DE" stroke-width="1.1" stroke-linejoin="round" stroke-linecap="round" />
<rect x="523.98" y="130.27" width="1.6" height="1.6" fill="none" stroke="#B177DE" stroke-width="0.45"/>
<rect x="529.84" y="126.30" width="1.6" height="1.6" fill="none" stroke="#B177DE" stroke-width="0.45"/>
<rect x="535.70" y="121.07" width="1.6" height="1.6" fill="none" stroke="#B177DE" stroke-width="0.45"/>
<rect x="541.56" y="118.77" width="1.6" height="1.6" fill="none" stroke="#B177DE" stroke-width="0.45"/>
<rect x="547.43" y="117.54" width="1.6" height="1.6" fill="none" stroke="#B177DE" stroke-width="0.45"/>
<rect x="553.29" y="116.59" width="1.6" height="1.6" fill="none" stroke="#B177DE" stroke-width="0.45"/>
<rect x="559.15" y="115.75" width="1.6" height="1.6" fill="none" stroke="#B177DE" stroke-width="0.45"/>
<rect x="565.01" y="115.03" width="1.6" height="1.6" fill="none" stroke="#B177DE" stroke-width="0.45"/>
<rect x="570.88" y="114.35" width="1.6" height="1.6" fill="none" stroke="#B177DE" stroke-width="0.45"/>
<rect x="576.74" y="113.60" width="1.6" height="1.6" fill="none" stroke="#B177DE" stroke-width="0.45"/>
<rect x="582.60" y="112.69" width="1.6" height="1.6" fill="none" stroke="#B177DE" stroke-width="0.45"/>
<rect x="588.46" y="111.59" width="1.6" height="1.6" fill="none" stroke="#B177DE" stroke-width="0.45"/>
<rect x="594.33" y="110.33" width="1.6" height="1.6" fill="none" stroke="#B177DE" stroke-width="0.45"/>
<rect x="600.19" y="108.80" width="1.6" height="1.6" fill="none" stroke="#B177DE" stroke-width="0.45"/>
<rect x="606.05" y="106.89" width="1.6" height="1.6" fill="none" stroke="#B177DE" stroke-width="0.45"/>
<rect x="611.91" y="104.47" width="1.6" height="1.6" fill="none" stroke="#B177DE" stroke-width="0.45"/>
<polyline points="406.82,79.10 430.74,73.30 453.72,69.40 477.88,65.70 500.86,62.00 520.09,58.40 541.66,53.40 559.48,49.80 565.11,40.00 571.67,26.60 583.40,24.40 595.12,22.20 606.62,19.70 618.11,15.80" fill="none" stroke="#515151" stroke-width="0.95" stroke-linejoin="round" stroke-linecap="round" />
<rect x="406.73" y="78.13" width="1.6" height="1.6" fill="none" stroke="#515151" stroke-width="0.45"/>
<rect x="412.59" y="76.71" width="1.6" height="1.6" fill="none" stroke="#515151" stroke-width="0.45"/>
<rect x="418.45" y="75.29" width="1.6" height="1.6" fill="none" stroke="#515151" stroke-width="0.45"/>
<rect x="424.31" y="73.86" width="1.6" height="1.6" fill="none" stroke="#515151" stroke-width="0.45"/>
<rect x="430.18" y="72.46" width="1.6" height="1.6" fill="none" stroke="#515151" stroke-width="0.45"/>
<rect x="436.04" y="71.47" width="1.6" height="1.6" fill="none" stroke="#515151" stroke-width="0.45"/>
<rect x="441.90" y="70.47" width="1.6" height="1.6" fill="none" stroke="#515151" stroke-width="0.45"/>
<rect x="447.76" y="69.48" width="1.6" height="1.6" fill="none" stroke="#515151" stroke-width="0.45"/>
<rect x="453.62" y="68.49" width="1.6" height="1.6" fill="none" stroke="#515151" stroke-width="0.45"/>
<rect x="459.49" y="67.59" width="1.6" height="1.6" fill="none" stroke="#515151" stroke-width="0.45"/>
<rect x="465.35" y="66.70" width="1.6" height="1.6" fill="none" stroke="#515151" stroke-width="0.45"/>
<rect x="471.21" y="65.80" width="1.6" height="1.6" fill="none" stroke="#515151" stroke-width="0.45"/>
<rect x="477.07" y="64.90" width="1.6" height="1.6" fill="none" stroke="#515151" stroke-width="0.45"/>
<rect x="482.94" y="63.96" width="1.6" height="1.6" fill="none" stroke="#515151" stroke-width="0.45"/>
<rect x="488.80" y="63.01" width="1.6" height="1.6" fill="none" stroke="#515151" stroke-width="0.45"/>
<rect x="494.66" y="62.07" width="1.6" height="1.6" fill="none" stroke="#515151" stroke-width="0.45"/>
<rect x="500.53" y="61.11" width="1.6" height="1.6" fill="none" stroke="#515151" stroke-width="0.45"/>
<rect x="506.39" y="60.01" width="1.6" height="1.6" fill="none" stroke="#515151" stroke-width="0.45"/>
<rect x="512.25" y="58.92" width="1.6" height="1.6" fill="none" stroke="#515151" stroke-width="0.45"/>
<rect x="518.11" y="57.82" width="1.6" height="1.6" fill="none" stroke="#515151" stroke-width="0.45"/>
<rect x="523.98" y="56.51" width="1.6" height="1.6" fill="none" stroke="#515151" stroke-width="0.45"/>
<rect x="529.84" y="55.15" width="1.6" height="1.6" fill="none" stroke="#515151" stroke-width="0.45"/>
<rect x="535.70" y="53.80" width="1.6" height="1.6" fill="none" stroke="#515151" stroke-width="0.45"/>
<rect x="541.56" y="52.46" width="1.6" height="1.6" fill="none" stroke="#515151" stroke-width="0.45"/>
<rect x="547.43" y="51.27" width="1.6" height="1.6" fill="none" stroke="#515151" stroke-width="0.45"/>
<rect x="553.29" y="50.09" width="1.6" height="1.6" fill="none" stroke="#515151" stroke-width="0.45"/>
<rect x="559.15" y="48.18" width="1.6" height="1.6" fill="none" stroke="#515151" stroke-width="0.45"/>
<rect x="565.01" y="37.76" width="1.6" height="1.6" fill="none" stroke="#515151" stroke-width="0.45"/>
<rect x="570.88" y="25.80" width="1.6" height="1.6" fill="none" stroke="#515151" stroke-width="0.45"/>
<rect x="576.74" y="24.70" width="1.6" height="1.6" fill="none" stroke="#515151" stroke-width="0.45"/>
<rect x="582.60" y="23.60" width="1.6" height="1.6" fill="none" stroke="#515151" stroke-width="0.45"/>
<rect x="588.46" y="22.50" width="1.6" height="1.6" fill="none" stroke="#515151" stroke-width="0.45"/>
<rect x="594.33" y="21.40" width="1.6" height="1.6" fill="none" stroke="#515151" stroke-width="0.45"/>
<rect x="600.19" y="20.12" width="1.6" height="1.6" fill="none" stroke="#515151" stroke-width="0.45"/>
<rect x="606.05" y="18.82" width="1.6" height="1.6" fill="none" stroke="#515151" stroke-width="0.45"/>
<rect x="611.91" y="16.83" width="1.6" height="1.6" fill="none" stroke="#515151" stroke-width="0.45"/>
<polyline points="541.66,53.40 548.23,40.00 553.62,31.20 559.48,28.40 571.67,26.60 606.62,19.70 618.11,15.80" fill="none" stroke="#515151" stroke-width="0.95" stroke-linejoin="round" stroke-linecap="round" />
<rect x="541.56" y="51.16" width="1.6" height="1.6" fill="none" stroke="#515151" stroke-width="0.45"/>
<rect x="547.43" y="39.20" width="1.6" height="1.6" fill="none" stroke="#515151" stroke-width="0.45"/>
<rect x="553.29" y="30.18" width="1.6" height="1.6" fill="none" stroke="#515151" stroke-width="0.45"/>
<rect x="559.15" y="27.53" width="1.6" height="1.6" fill="none" stroke="#515151" stroke-width="0.45"/>
<rect x="565.01" y="26.67" width="1.6" height="1.6" fill="none" stroke="#515151" stroke-width="0.45"/>
<rect x="570.88" y="25.80" width="1.6" height="1.6" fill="none" stroke="#515151" stroke-width="0.45"/>
<rect x="576.74" y="24.64" width="1.6" height="1.6" fill="none" stroke="#515151" stroke-width="0.45"/>
<rect x="582.60" y="23.48" width="1.6" height="1.6" fill="none" stroke="#515151" stroke-width="0.45"/>
<rect x="588.46" y="22.33" width="1.6" height="1.6" fill="none" stroke="#515151" stroke-width="0.45"/>
<rect x="594.33" y="21.17" width="1.6" height="1.6" fill="none" stroke="#515151" stroke-width="0.45"/>
<rect x="600.19" y="20.01" width="1.6" height="1.6" fill="none" stroke="#515151" stroke-width="0.45"/>
<rect x="606.05" y="18.82" width="1.6" height="1.6" fill="none" stroke="#515151" stroke-width="0.45"/>
<rect x="611.91" y="16.83" width="1.6" height="1.6" fill="none" stroke="#515151" stroke-width="0.45"/>
<polyline points="406.82,115.90 407.76,115.76 408.70,115.62 409.64,115.48 410.57,115.34 411.51,115.21 412.45,115.07 413.39,114.93 414.33,114.79 415.26,114.65 416.20,114.51 417.14,114.38 418.08,114.24 419.02,114.10 419.95,113.96 420.89,113.83 421.83,113.69 422.77,113.55 423.71,113.42 424.64,113.28 425.58,113.14 426.52,113.01 427.46,112.87 428.40,112.73 429.33,112.60 430.27,112.46 431.21,112.32 432.15,112.19 433.09,112.05 434.02,111.92 434.96,111.78 435.90,111.65 436.84,111.51 437.78,111.38 438.71,111.24 439.65,111.11 440.59,110.97 441.53,110.84 442.47,110.70 443.40,110.57 444.34,110.43 445.28,110.30 446.22,110.17 447.16,110.03 448.09,109.90 449.03,109.76 449.97,109.63 450.91,109.50 451.85,109.36 452.78,109.23 453.72,109.10 454.66,108.96 455.60,108.83 456.54,108.70 457.47,108.56 458.41,108.43 459.35,108.30 460.29,108.17 461.23,108.03 462.16,107.90 463.10,107.77 464.04,107.63 464.98,107.50 465.92,107.37 466.85,107.23 467.79,107.10 468.73,106.97 469.67,106.83 470.61,106.70 471.54,106.56 472.48,106.43 473.42,106.30 474.36,106.16 475.30,106.03 476.23,105.89 477.17,105.76 478.11,105.63 479.05,105.50 479.99,105.36 480.92,105.23 481.86,105.10 482.80,104.97 483.74,104.84 484.68,104.71 485.61,104.58 486.55,104.45 487.49,104.32 488.43,104.19 489.37,104.06 490.30,103.93 491.24,103.81 492.18,103.68 493.12,103.56 494.06,103.43 494.99,103.31 495.93,103.19 496.87,103.07 497.81,102.94 498.75,102.82 499.68,102.71 500.62,102.59 501.56,102.47 502.50,102.36 503.44,102.25 504.37,102.14 505.31,102.03 506.25,101.93 507.19,101.83 508.13,101.73 509.06,101.63 510.00,101.53 510.94,101.44 511.88,101.34 512.82,101.25 513.75,101.16 514.69,101.06 515.63,100.97 516.57,100.88 517.51,100.79 518.44,100.69 519.38,100.60 520.32,100.50 521.26,100.41 522.20,100.31 523.13,100.21 524.07,100.11 525.01,100.01 525.95,99.90 526.89,99.80 527.82,99.69 528.76,99.57 529.70,99.46 530.64,99.34 531.58,99.21 532.51,99.09 533.45,98.96 534.39,98.82 535.33,98.68 536.27,98.54 537.20,98.39 538.14,98.25 539.08,98.11 540.02,97.97 540.96,97.82 541.89,97.66 542.83,97.48 543.77,97.28 544.71,97.05 545.65,96.80 546.58,96.51 547.52,96.18 548.46,95.76 549.40,95.02 550.34,94.00 551.27,92.82 552.21,91.58 553.15,90.38 554.09,89.20 555.03,87.85 555.96,86.40 556.90,84.99 557.84,83.73 558.78,82.73 559.72,82.10 560.65,81.72 561.59,81.36 562.53,81.04 563.47,80.74 564.41,80.46 565.34,80.21 566.28,79.98 567.22,79.76 568.16,79.56 569.10,79.38 570.03,79.21 570.97,79.05 571.91,78.90 572.85,78.76 573.79,78.62 574.72,78.49 575.66,78.36 576.60,78.22 577.54,78.09 578.48,77.95 579.41,77.80 580.35,77.65 581.29,77.49 582.23,77.31 583.17,77.12 584.10,76.92 585.04,76.70 585.98,76.47 586.92,76.25 587.86,76.03 588.79,75.81 589.73,75.59 590.67,75.38 591.61,75.16 592.55,74.95 593.48,74.73 594.42,74.51 595.36,74.29 596.30,74.06 597.24,73.83 598.17,73.59 599.11,73.34 600.05,73.09 600.99,72.82 601.93,72.55 602.86,72.27 603.80,71.97 604.74,71.67 605.68,71.35 606.62,71.01 607.55,70.67 608.49,70.30 609.43,69.92 610.37,69.52 611.31,69.11 612.24,68.64 613.18,68.07 614.12,67.40 615.06,66.67 616.00,65.90 616.93,65.10 617.87,64.30 618.11,64.10" fill="none" stroke="#1A6FDF" stroke-width="1.1" stroke-linejoin="round" stroke-linecap="round" />
<rect x="406.73" y="115.00" width="1.6" height="1.6" fill="none" stroke="#1A6FDF" stroke-width="0.45"/>
<rect x="412.59" y="114.13" width="1.6" height="1.6" fill="none" stroke="#1A6FDF" stroke-width="0.45"/>
<rect x="418.45" y="113.27" width="1.6" height="1.6" fill="none" stroke="#1A6FDF" stroke-width="0.45"/>
<rect x="424.31" y="112.41" width="1.6" height="1.6" fill="none" stroke="#1A6FDF" stroke-width="0.45"/>
<rect x="430.18" y="111.56" width="1.6" height="1.6" fill="none" stroke="#1A6FDF" stroke-width="0.45"/>
<rect x="436.04" y="110.71" width="1.6" height="1.6" fill="none" stroke="#1A6FDF" stroke-width="0.45"/>
<rect x="441.90" y="109.87" width="1.6" height="1.6" fill="none" stroke="#1A6FDF" stroke-width="0.45"/>
<rect x="447.76" y="109.03" width="1.6" height="1.6" fill="none" stroke="#1A6FDF" stroke-width="0.45"/>
<rect x="453.62" y="108.20" width="1.6" height="1.6" fill="none" stroke="#1A6FDF" stroke-width="0.45"/>
<rect x="459.49" y="107.37" width="1.6" height="1.6" fill="none" stroke="#1A6FDF" stroke-width="0.45"/>
<rect x="465.35" y="106.53" width="1.6" height="1.6" fill="none" stroke="#1A6FDF" stroke-width="0.45"/>
<rect x="471.21" y="105.70" width="1.6" height="1.6" fill="none" stroke="#1A6FDF" stroke-width="0.45"/>
<rect x="477.07" y="104.86" width="1.6" height="1.6" fill="none" stroke="#1A6FDF" stroke-width="0.45"/>
<rect x="482.94" y="104.04" width="1.6" height="1.6" fill="none" stroke="#1A6FDF" stroke-width="0.45"/>
<rect x="488.80" y="103.23" width="1.6" height="1.6" fill="none" stroke="#1A6FDF" stroke-width="0.45"/>
<rect x="494.66" y="102.45" width="1.6" height="1.6" fill="none" stroke="#1A6FDF" stroke-width="0.45"/>
<rect x="500.53" y="101.70" width="1.6" height="1.6" fill="none" stroke="#1A6FDF" stroke-width="0.45"/>
<rect x="506.39" y="101.03" width="1.6" height="1.6" fill="none" stroke="#1A6FDF" stroke-width="0.45"/>
<rect x="512.25" y="100.43" width="1.6" height="1.6" fill="none" stroke="#1A6FDF" stroke-width="0.45"/>
<rect x="518.11" y="99.85" width="1.6" height="1.6" fill="none" stroke="#1A6FDF" stroke-width="0.45"/>
<rect x="523.98" y="99.23" width="1.6" height="1.6" fill="none" stroke="#1A6FDF" stroke-width="0.45"/>
<rect x="529.84" y="98.54" width="1.6" height="1.6" fill="none" stroke="#1A6FDF" stroke-width="0.45"/>
<rect x="535.70" y="97.70" width="1.6" height="1.6" fill="none" stroke="#1A6FDF" stroke-width="0.45"/>
<rect x="541.56" y="96.77" width="1.6" height="1.6" fill="none" stroke="#1A6FDF" stroke-width="0.45"/>
<rect x="547.43" y="95.09" width="1.6" height="1.6" fill="none" stroke="#1A6FDF" stroke-width="0.45"/>
<rect x="553.29" y="88.40" width="1.6" height="1.6" fill="none" stroke="#1A6FDF" stroke-width="0.45"/>
<rect x="559.15" y="81.20" width="1.6" height="1.6" fill="none" stroke="#1A6FDF" stroke-width="0.45"/>
<rect x="565.01" y="79.29" width="1.6" height="1.6" fill="none" stroke="#1A6FDF" stroke-width="0.45"/>
<rect x="570.88" y="78.14" width="1.6" height="1.6" fill="none" stroke="#1A6FDF" stroke-width="0.45"/>
<rect x="576.74" y="77.29" width="1.6" height="1.6" fill="none" stroke="#1A6FDF" stroke-width="0.45"/>
<rect x="582.60" y="76.28" width="1.6" height="1.6" fill="none" stroke="#1A6FDF" stroke-width="0.45"/>
<rect x="588.46" y="74.90" width="1.6" height="1.6" fill="none" stroke="#1A6FDF" stroke-width="0.45"/>
<rect x="594.33" y="73.54" width="1.6" height="1.6" fill="none" stroke="#1A6FDF" stroke-width="0.45"/>
<rect x="600.19" y="72.02" width="1.6" height="1.6" fill="none" stroke="#1A6FDF" stroke-width="0.45"/>
<rect x="606.05" y="70.13" width="1.6" height="1.6" fill="none" stroke="#1A6FDF" stroke-width="0.45"/>
<rect x="611.91" y="67.57" width="1.6" height="1.6" fill="none" stroke="#1A6FDF" stroke-width="0.45"/>
<polyline points="442.70,110.00 443.64,109.85 444.58,109.69 445.51,109.54 446.45,109.39 447.39,109.23 448.33,109.08 449.27,108.92 450.20,108.77 451.14,108.62 452.08,108.46 453.02,108.31 453.96,108.15 454.89,108.00 455.83,107.85 456.77,107.69 457.71,107.54 458.65,107.38 459.58,107.23 460.52,107.07 461.46,106.92 462.40,106.76 463.34,106.61 464.27,106.45 465.21,106.30 466.15,106.14 467.09,105.99 468.03,105.83 468.96,105.68 469.90,105.52 470.84,105.37 471.78,105.21 472.72,105.06 473.65,104.90 474.59,104.75 475.53,104.59 476.47,104.43 477.41,104.28 478.34,104.12 479.28,103.97 480.22,103.81 481.16,103.65 482.10,103.49 483.03,103.34 483.97,103.18 484.91,103.02 485.85,102.86 486.79,102.70 487.72,102.54 488.66,102.38 489.60,102.23 490.54,102.07 491.48,101.91 492.41,101.75 493.35,101.59 494.29,101.43 495.23,101.27 496.17,101.11 497.10,100.95 498.04,100.79 498.98,100.63 499.92,100.48 500.86,100.32 501.79,100.16 502.73,100.00 503.67,99.85 504.61,99.69 505.55,99.53 506.48,99.38 507.42,99.22 508.36,99.07 509.30,98.91 510.24,98.76 511.17,98.60 512.11,98.45 513.05,98.30 513.99,98.16 514.93,98.03 515.86,97.91 516.80,97.80 517.74,97.69 518.68,97.59 519.62,97.49 520.55,97.39 521.49,97.29 522.43,97.18 523.37,97.06 524.31,96.93 525.24,96.79 526.18,96.63 527.12,96.45 528.06,96.25 529.00,96.03 529.93,95.78 530.87,95.50 531.81,95.01 532.75,94.20 533.69,93.17 534.62,92.04 535.56,90.90 536.50,89.84 537.44,88.68 538.38,87.42 539.31,86.17 540.25,85.05 541.19,84.19 542.13,83.67 543.07,83.27 544.00,82.94 544.94,82.65 545.88,82.40 546.82,82.16 547.76,81.92 548.69,81.69 549.63,81.46 550.57,81.25 551.51,81.04 552.45,80.84 553.38,80.64 554.32,80.45 555.26,80.27 556.20,80.09 557.14,79.92 558.07,79.75 559.01,79.59 559.95,79.43 560.89,79.27 561.83,79.11 562.76,78.96 563.70,78.81 564.64,78.66 565.58,78.51 566.52,78.36 567.45,78.22 568.39,78.07 569.33,77.92 570.27,77.77 571.21,77.62 572.14,77.46 573.08,77.30 574.02,77.15 574.96,76.98 575.90,76.82 576.83,76.64 577.77,76.47 578.71,76.29 579.65,76.10 580.59,75.91 581.52,75.71 582.46,75.50 583.40,75.29 584.34,75.07 585.28,74.84 586.21,74.61 587.15,74.38 588.09,74.15 589.03,73.91 589.97,73.68 590.90,73.44 591.84,73.19 592.78,72.94 593.72,72.69 594.66,72.43 595.59,72.17 596.53,71.89 597.47,71.61 598.41,71.32 599.35,71.02 600.28,70.72 601.22,70.40 602.16,70.07 603.10,69.72 604.04,69.37 604.97,69.00 605.91,68.62 606.85,68.22 607.79,67.81 608.73,67.39 609.66,66.94 610.60,66.48 611.54,66.00 612.48,65.45 613.42,64.78 614.35,64.03 615.29,63.21 616.23,62.35 617.17,61.47 618.11,60.60" fill="none" stroke="#1A6FDF" stroke-width="1.1" stroke-linejoin="round" stroke-linecap="round" />
<rect x="441.90" y="109.20" width="1.6" height="1.6" fill="none" stroke="#1A6FDF" stroke-width="0.45"/>
<rect x="447.76" y="108.24" width="1.6" height="1.6" fill="none" stroke="#1A6FDF" stroke-width="0.45"/>
<rect x="453.62" y="107.28" width="1.6" height="1.6" fill="none" stroke="#1A6FDF" stroke-width="0.45"/>
<rect x="459.49" y="106.31" width="1.6" height="1.6" fill="none" stroke="#1A6FDF" stroke-width="0.45"/>
<rect x="465.35" y="105.34" width="1.6" height="1.6" fill="none" stroke="#1A6FDF" stroke-width="0.45"/>
<rect x="471.21" y="104.37" width="1.6" height="1.6" fill="none" stroke="#1A6FDF" stroke-width="0.45"/>
<rect x="477.07" y="103.40" width="1.6" height="1.6" fill="none" stroke="#1A6FDF" stroke-width="0.45"/>
<rect x="482.94" y="102.42" width="1.6" height="1.6" fill="none" stroke="#1A6FDF" stroke-width="0.45"/>
<rect x="488.80" y="101.43" width="1.6" height="1.6" fill="none" stroke="#1A6FDF" stroke-width="0.45"/>
<rect x="494.66" y="100.43" width="1.6" height="1.6" fill="none" stroke="#1A6FDF" stroke-width="0.45"/>
<rect x="500.52" y="99.44" width="1.6" height="1.6" fill="none" stroke="#1A6FDF" stroke-width="0.45"/>
<rect x="506.39" y="98.46" width="1.6" height="1.6" fill="none" stroke="#1A6FDF" stroke-width="0.45"/>
<rect x="512.25" y="97.50" width="1.6" height="1.6" fill="none" stroke="#1A6FDF" stroke-width="0.45"/>
<rect x="518.11" y="96.77" width="1.6" height="1.6" fill="none" stroke="#1A6FDF" stroke-width="0.45"/>
<rect x="523.98" y="96.06" width="1.6" height="1.6" fill="none" stroke="#1A6FDF" stroke-width="0.45"/>
<rect x="529.84" y="94.77" width="1.6" height="1.6" fill="none" stroke="#1A6FDF" stroke-width="0.45"/>
<rect x="535.70" y="89.04" width="1.6" height="1.6" fill="none" stroke="#1A6FDF" stroke-width="0.45"/>
<rect x="541.56" y="82.76" width="1.6" height="1.6" fill="none" stroke="#1A6FDF" stroke-width="0.45"/>
<rect x="547.43" y="81.00" width="1.6" height="1.6" fill="none" stroke="#1A6FDF" stroke-width="0.45"/>
<rect x="553.29" y="79.70" width="1.6" height="1.6" fill="none" stroke="#1A6FDF" stroke-width="0.45"/>
<rect x="559.15" y="78.63" width="1.6" height="1.6" fill="none" stroke="#1A6FDF" stroke-width="0.45"/>
<rect x="565.01" y="77.67" width="1.6" height="1.6" fill="none" stroke="#1A6FDF" stroke-width="0.45"/>
<rect x="570.88" y="76.74" width="1.6" height="1.6" fill="none" stroke="#1A6FDF" stroke-width="0.45"/>
<rect x="576.74" y="75.71" width="1.6" height="1.6" fill="none" stroke="#1A6FDF" stroke-width="0.45"/>
<rect x="582.60" y="74.49" width="1.6" height="1.6" fill="none" stroke="#1A6FDF" stroke-width="0.45"/>
<rect x="588.46" y="73.05" width="1.6" height="1.6" fill="none" stroke="#1A6FDF" stroke-width="0.45"/>
<rect x="594.33" y="71.50" width="1.6" height="1.6" fill="none" stroke="#1A6FDF" stroke-width="0.45"/>
<rect x="600.19" y="69.68" width="1.6" height="1.6" fill="none" stroke="#1A6FDF" stroke-width="0.45"/>
<rect x="606.05" y="67.42" width="1.6" height="1.6" fill="none" stroke="#1A6FDF" stroke-width="0.45"/>
<rect x="611.91" y="64.49" width="1.6" height="1.6" fill="none" stroke="#1A6FDF" stroke-width="0.45"/>
<g stroke="#222" stroke-width="1.3" fill="none">
<line x1="395.3" y1="190.7" x2="395.3" y2="357.6"/>
<line x1="393.4" y1="190.7" x2="395.3" y2="190.7"/>
<line x1="394.7" y1="357" x2="629.5" y2="357"/>
<line x1="393.4" y1="357.28" x2="395.3" y2="357.28"/>
<line x1="391.4" y1="336.50" x2="395.3" y2="336.50"/>
<line x1="393.4" y1="315.72" x2="395.3" y2="315.72"/>
<line x1="391.4" y1="294.94" x2="395.3" y2="294.94"/>
<line x1="393.4" y1="274.16" x2="395.3" y2="274.16"/>
<line x1="391.4" y1="253.38" x2="395.3" y2="253.38"/>
<line x1="393.4" y1="232.60" x2="395.3" y2="232.60"/>
<line x1="391.4" y1="211.82" x2="395.3" y2="211.82"/>
<line x1="393.4" y1="191.04" x2="395.3" y2="191.04"/>
<line x1="395.40" y1="357" x2="395.40" y2="359.2"/>
<line x1="413.35" y1="357" x2="413.35" y2="359.2"/>
<line x1="431.30" y1="357" x2="431.30" y2="359.2"/>
<line x1="449.25" y1="357" x2="449.25" y2="361"/>
<line x1="467.20" y1="357" x2="467.20" y2="359.2"/>
<line x1="485.15" y1="357" x2="485.15" y2="359.2"/>
<line x1="503.10" y1="357" x2="503.10" y2="359.2"/>
<line x1="521.05" y1="357" x2="521.05" y2="359.2"/>
<line x1="539.00" y1="357" x2="539.00" y2="361"/>
<line x1="556.95" y1="357" x2="556.95" y2="359.2"/>
<line x1="574.90" y1="357" x2="574.90" y2="359.2"/>
<line x1="592.85" y1="357" x2="592.85" y2="359.2"/>
<line x1="610.80" y1="357" x2="610.80" y2="359.2"/>
<line x1="628.75" y1="357" x2="628.75" y2="361"/>
</g>
<g font-family='"Liberation Sans", sans-serif' fill='#161616' stroke='#161616' stroke-width='0.25'>
<text transform="translate(388.2,339.70) scale(0.93,1)" font-size="10.3" text-anchor="end" stroke-width="0.12">0.0</text>
<text transform="translate(388.2,298.14) scale(0.93,1)" font-size="10.3" text-anchor="end" stroke-width="0.12">0.2</text>
<text transform="translate(388.2,256.58) scale(0.93,1)" font-size="10.3" text-anchor="end" stroke-width="0.12">0.4</text>
<text transform="translate(388.2,215.02) scale(0.93,1)" font-size="10.3" text-anchor="end" stroke-width="0.12">0.6</text>
<text transform="translate(449.25,372.0) scale(0.93,1)" font-size="10.3" text-anchor="middle" stroke-width="0.12">5</text>
<text transform="translate(539.00,372.0) scale(0.93,1)" font-size="10.3" text-anchor="middle" stroke-width="0.12">10</text>
<text transform="translate(628.75,372.0) scale(0.93,1)" font-size="10.3" text-anchor="middle" stroke-width="0.12">15</text>
<text transform="translate(512.4,386.0) scale(1.05,1)" font-size="11" text-anchor="middle">Pore diameter (nm)</text>
<text transform="translate(370.6,270.5) rotate(-90)" font-size="11" text-anchor="middle">dV(d) (cc/nm/g)</text>
</g>
<polyline points="418.50,336.30 422.00,336.20 426.00,335.40 430.00,336.20 435.00,336.31 440.00,336.31 445.00,336.31 450.00,336.32 455.00,336.32 460.00,336.33 465.00,336.34 470.00,336.34 475.00,336.35 480.00,336.35 485.00,336.36 490.00,336.36 495.00,336.37 500.00,336.37 505.00,336.38 510.00,336.38 515.00,336.38 520.00,336.39 525.00,336.40 530.00,336.40 535.00,336.41 540.00,336.41 545.00,336.42 550.00,336.42 555.00,336.43 560.00,336.43 565.00,336.44 570.00,336.44 575.00,336.44 580.00,336.45 585.00,336.45 590.00,336.46 595.00,336.47" fill="none" stroke="#CC9900" stroke-width="1.3" stroke-linejoin="round" stroke-linecap="round" />
<circle cx="418.50" cy="336.30" r="0.9" fill="#CC9900"/>
<circle cx="422.00" cy="336.20" r="0.9" fill="#CC9900"/>
<circle cx="426.00" cy="335.40" r="0.9" fill="#CC9900"/>
<circle cx="430.00" cy="336.20" r="0.9" fill="#CC9900"/>
<circle cx="435.00" cy="336.31" r="0.9" fill="#CC9900"/>
<circle cx="440.00" cy="336.31" r="0.9" fill="#CC9900"/>
<circle cx="445.00" cy="336.31" r="0.9" fill="#CC9900"/>
<circle cx="450.00" cy="336.32" r="0.9" fill="#CC9900"/>
<circle cx="455.00" cy="336.32" r="0.9" fill="#CC9900"/>
<circle cx="460.00" cy="336.33" r="0.9" fill="#CC9900"/>
<circle cx="465.00" cy="336.34" r="0.9" fill="#CC9900"/>
<circle cx="470.00" cy="336.34" r="0.9" fill="#CC9900"/>
<circle cx="475.00" cy="336.35" r="0.9" fill="#CC9900"/>
<circle cx="480.00" cy="336.35" r="0.9" fill="#CC9900"/>
<circle cx="485.00" cy="336.36" r="0.9" fill="#CC9900"/>
<circle cx="490.00" cy="336.36" r="0.9" fill="#CC9900"/>
<circle cx="495.00" cy="336.37" r="0.9" fill="#CC9900"/>
<circle cx="500.00" cy="336.37" r="0.9" fill="#CC9900"/>
<circle cx="505.00" cy="336.38" r="0.9" fill="#CC9900"/>
<circle cx="510.00" cy="336.38" r="0.9" fill="#CC9900"/>
<circle cx="515.00" cy="336.38" r="0.9" fill="#CC9900"/>
<circle cx="520.00" cy="336.39" r="0.9" fill="#CC9900"/>
<circle cx="525.00" cy="336.40" r="0.9" fill="#CC9900"/>
<circle cx="530.00" cy="336.40" r="0.9" fill="#CC9900"/>
<circle cx="535.00" cy="336.41" r="0.9" fill="#CC9900"/>
<circle cx="540.00" cy="336.41" r="0.9" fill="#CC9900"/>
<circle cx="545.00" cy="336.42" r="0.9" fill="#CC9900"/>
<circle cx="550.00" cy="336.42" r="0.9" fill="#CC9900"/>
<circle cx="555.00" cy="336.43" r="0.9" fill="#CC9900"/>
<circle cx="560.00" cy="336.43" r="0.9" fill="#CC9900"/>
<circle cx="565.00" cy="336.44" r="0.9" fill="#CC9900"/>
<circle cx="570.00" cy="336.44" r="0.9" fill="#CC9900"/>
<circle cx="575.00" cy="336.44" r="0.9" fill="#CC9900"/>
<circle cx="580.00" cy="336.45" r="0.9" fill="#CC9900"/>
<circle cx="585.00" cy="336.45" r="0.9" fill="#CC9900"/>
<circle cx="590.00" cy="336.46" r="0.9" fill="#CC9900"/>
<circle cx="595.00" cy="336.47" r="0.9" fill="#CC9900"/>
<polyline points="418.50,334.30 426.00,332.00 430.30,331.50 434.10,327.30 436.00,320.70 438.80,300.30 442.30,279.60 444.30,271.70 449.40,275.20 452.20,291.80 457.30,314.30 463.40,324.50 471.60,329.60 485.00,332.00 594.60,334.50" fill="none" stroke="#B177DE" stroke-width="1.1" stroke-linejoin="round" stroke-linecap="round" />
<circle cx="418.50" cy="334.30" r="0.8" fill="#B177DE"/>
<circle cx="426.00" cy="332.00" r="0.8" fill="#B177DE"/>
<circle cx="430.30" cy="331.50" r="0.8" fill="#B177DE"/>
<circle cx="434.10" cy="327.30" r="0.8" fill="#B177DE"/>
<circle cx="436.00" cy="320.70" r="0.8" fill="#B177DE"/>
<circle cx="438.80" cy="300.30" r="0.8" fill="#B177DE"/>
<circle cx="442.30" cy="279.60" r="0.8" fill="#B177DE"/>
<circle cx="444.30" cy="271.70" r="0.8" fill="#B177DE"/>
<circle cx="449.40" cy="275.20" r="0.8" fill="#B177DE"/>
<circle cx="452.20" cy="291.80" r="0.8" fill="#B177DE"/>
<circle cx="457.30" cy="314.30" r="0.8" fill="#B177DE"/>
<circle cx="463.40" cy="324.50" r="0.8" fill="#B177DE"/>
<circle cx="471.60" cy="329.60" r="0.8" fill="#B177DE"/>
<circle cx="485.00" cy="332.00" r="0.8" fill="#B177DE"/>
<circle cx="594.60" cy="334.50" r="0.8" fill="#B177DE"/>
<polyline points="418.50,332.90 425.60,331.50 430.30,332.00 434.50,328.20 437.50,322.00 440.00,311.80 443.40,293.40 446.90,272.60 450.50,256.60 454.20,277.50 459.30,306.10 464.40,320.40 471.60,326.60 485.00,331.00 594.60,334.30" fill="none" stroke="#37AD6B" stroke-width="1.1" stroke-linejoin="round" stroke-linecap="round" />
<circle cx="418.50" cy="332.90" r="0.8" fill="#37AD6B"/>
<circle cx="425.60" cy="331.50" r="0.8" fill="#37AD6B"/>
<circle cx="430.30" cy="332.00" r="0.8" fill="#37AD6B"/>
<circle cx="434.50" cy="328.20" r="0.8" fill="#37AD6B"/>
<circle cx="437.50" cy="322.00" r="0.8" fill="#37AD6B"/>
<circle cx="440.00" cy="311.80" r="0.8" fill="#37AD6B"/>
<circle cx="443.40" cy="293.40" r="0.8" fill="#37AD6B"/>
<circle cx="446.90" cy="272.60" r="0.8" fill="#37AD6B"/>
<circle cx="450.50" cy="256.60" r="0.8" fill="#37AD6B"/>
<circle cx="454.20" cy="277.50" r="0.8" fill="#37AD6B"/>
<circle cx="459.30" cy="306.10" r="0.8" fill="#37AD6B"/>
<circle cx="464.40" cy="320.40" r="0.8" fill="#37AD6B"/>
<circle cx="471.60" cy="326.60" r="0.8" fill="#37AD6B"/>
<circle cx="485.00" cy="331.00" r="0.8" fill="#37AD6B"/>
<circle cx="594.60" cy="334.30" r="0.8" fill="#37AD6B"/>
<polyline points="418.50,326.80 422.30,327.70 425.60,331.50 429.80,327.70 434.50,327.30 438.30,324.40 441.10,304.90 444.60,284.20 449.20,251.90 450.10,248.70 456.20,270.30 459.30,295.90 463.40,314.30 471.60,321.50 485.00,329.00 520.00,332.00 594.60,334.30" fill="none" stroke="#1A6FDF" stroke-width="1.1" stroke-linejoin="round" stroke-linecap="round" />
<circle cx="418.50" cy="326.80" r="0.8" fill="#1A6FDF"/>
<circle cx="422.30" cy="327.70" r="0.8" fill="#1A6FDF"/>
<circle cx="425.60" cy="331.50" r="0.8" fill="#1A6FDF"/>
<circle cx="429.80" cy="327.70" r="0.8" fill="#1A6FDF"/>
<circle cx="434.50" cy="327.30" r="0.8" fill="#1A6FDF"/>
<circle cx="438.30" cy="324.40" r="0.8" fill="#1A6FDF"/>
<circle cx="441.10" cy="304.90" r="0.8" fill="#1A6FDF"/>
<circle cx="444.60" cy="284.20" r="0.8" fill="#1A6FDF"/>
<circle cx="449.20" cy="251.90" r="0.8" fill="#1A6FDF"/>
<circle cx="450.10" cy="248.70" r="0.8" fill="#1A6FDF"/>
<circle cx="456.20" cy="270.30" r="0.8" fill="#1A6FDF"/>
<circle cx="459.30" cy="295.90" r="0.8" fill="#1A6FDF"/>
<circle cx="463.40" cy="314.30" r="0.8" fill="#1A6FDF"/>
<circle cx="471.60" cy="321.50" r="0.8" fill="#1A6FDF"/>
<circle cx="485.00" cy="329.00" r="0.8" fill="#1A6FDF"/>
<circle cx="520.00" cy="332.00" r="0.8" fill="#1A6FDF"/>
<circle cx="594.60" cy="334.30" r="0.8" fill="#1A6FDF"/>
<polyline points="418.50,328.70 422.30,330.10 426.00,327.30 430.30,329.20 433.10,326.30 436.40,332.00 438.80,327.30 442.50,322.10 445.70,300.30 449.20,275.00 452.10,252.10 456.20,285.70 460.30,312.30 464.40,322.50 471.60,325.60 485.00,330.00 515.20,334.80 550.00,334.00 604.80,335.00" fill="none" stroke="#F14040" stroke-width="1.1" stroke-linejoin="round" stroke-linecap="round" />
<circle cx="418.50" cy="328.70" r="0.8" fill="#F14040"/>
<circle cx="422.30" cy="330.10" r="0.8" fill="#F14040"/>
<circle cx="426.00" cy="327.30" r="0.8" fill="#F14040"/>
<circle cx="430.30" cy="329.20" r="0.8" fill="#F14040"/>
<circle cx="433.10" cy="326.30" r="0.8" fill="#F14040"/>
<circle cx="436.40" cy="332.00" r="0.8" fill="#F14040"/>
<circle cx="438.80" cy="327.30" r="0.8" fill="#F14040"/>
<circle cx="442.50" cy="322.10" r="0.8" fill="#F14040"/>
<circle cx="445.70" cy="300.30" r="0.8" fill="#F14040"/>
<circle cx="449.20" cy="275.00" r="0.8" fill="#F14040"/>
<circle cx="452.10" cy="252.10" r="0.8" fill="#F14040"/>
<circle cx="456.20" cy="285.70" r="0.8" fill="#F14040"/>
<circle cx="460.30" cy="312.30" r="0.8" fill="#F14040"/>
<circle cx="464.40" cy="322.50" r="0.8" fill="#F14040"/>
<circle cx="471.60" cy="325.60" r="0.8" fill="#F14040"/>
<circle cx="485.00" cy="330.00" r="0.8" fill="#F14040"/>
<circle cx="515.20" cy="334.80" r="0.8" fill="#F14040"/>
<circle cx="550.00" cy="334.00" r="0.8" fill="#F14040"/>
<circle cx="604.80" cy="335.00" r="0.8" fill="#F14040"/>
<polyline points="418.50,326.30 422.30,326.80 433.10,327.50 439.20,328.20 444.40,328.20 450.60,328.20 456.20,313.30 463.90,203.30 472.80,250.20 481.40,319.00 492.80,327.90 520.80,331.70 550.00,333.00 594.60,334.30" fill="none" stroke="#515151" stroke-width="1.1" stroke-linejoin="round" stroke-linecap="round" />
<circle cx="418.50" cy="326.30" r="0.8" fill="#515151"/>
<circle cx="422.30" cy="326.80" r="0.8" fill="#515151"/>
<circle cx="433.10" cy="327.50" r="0.8" fill="#515151"/>
<circle cx="439.20" cy="328.20" r="0.8" fill="#515151"/>
<circle cx="444.40" cy="328.20" r="0.8" fill="#515151"/>
<circle cx="450.60" cy="328.20" r="0.8" fill="#515151"/>
<circle cx="456.20" cy="313.30" r="0.8" fill="#515151"/>
<circle cx="463.90" cy="203.30" r="0.8" fill="#515151"/>
<circle cx="472.80" cy="250.20" r="0.8" fill="#515151"/>
<circle cx="481.40" cy="319.00" r="0.8" fill="#515151"/>
<circle cx="492.80" cy="327.90" r="0.8" fill="#515151"/>
<circle cx="520.80" cy="331.70" r="0.8" fill="#515151"/>
<circle cx="550.00" cy="333.00" r="0.8" fill="#515151"/>
<circle cx="594.60" cy="334.30" r="0.8" fill="#515151"/>
</svg>
</body></html>
